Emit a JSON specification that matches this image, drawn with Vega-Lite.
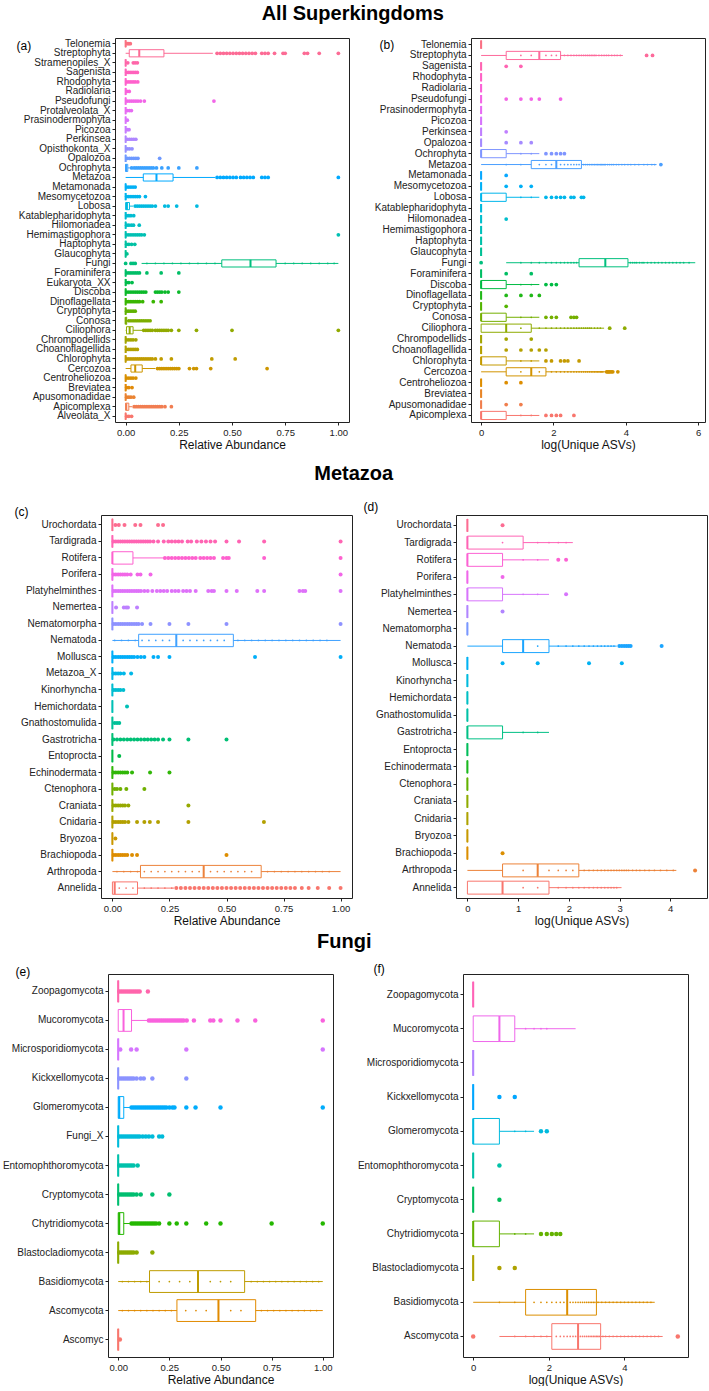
{
"$schema": "https://vega.github.io/schema/vega-lite/v6.json",
"padding": {"left": 0, "top": 3, "right": 0, "bottom": 0},
"config": {
  "font": "Liberation Sans",
  "view": {"stroke": "#222", "strokeWidth": 1},
  "axis": {"grid": false, "domain": false, "tickColor": "#222", "tickSize": 3, "labelColor": "#222", "labelFontSize": 10, "labelPadding": 2, "titleFontSize": 12, "titleFontWeight": "normal", "titleColor": "#111", "titlePadding": 3},
  "axisX": {"labelFontSize": 9.5},
  "axisY": {"titleAngle": 0, "titleAlign": "left", "titleBaseline": "middle", "titleColor": "#000"},
  "title": {"color": "#000"}
},
"resolve": {"scale": {"color": "independent"}},
"datasets": {
"none": [],
"box": [
{"p":"a","c":"Telonemia","lo":0,"q1":0,"md":0,"q3":0,"hi":0},
{"p":"a","c":"Streptophyta","lo":0,"q1":0.017,"md":0.064,"q3":0.18,"hi":0.41},
{"p":"a","c":"Stramenopiles_X","lo":0,"q1":0,"md":0,"q3":0,"hi":0},
{"p":"a","c":"Sagenista","lo":0,"q1":0,"md":0,"q3":0,"hi":0},
{"p":"a","c":"Rhodophyta","lo":0,"q1":0,"md":0,"q3":0,"hi":0},
{"p":"a","c":"Radiolaria","lo":0,"q1":0,"md":0,"q3":0,"hi":0},
{"p":"a","c":"Pseudofungi","lo":0,"q1":0,"md":0,"q3":0,"hi":0},
{"p":"a","c":"Protalveolata_X","lo":0,"q1":0,"md":0,"q3":0,"hi":0},
{"p":"a","c":"Prasinodermophyta","lo":0,"q1":0,"md":0,"q3":0,"hi":0},
{"p":"a","c":"Picozoa","lo":0,"q1":0,"md":0,"q3":0,"hi":0},
{"p":"a","c":"Perkinsea","lo":0,"q1":0,"md":0,"q3":0,"hi":0},
{"p":"a","c":"Opisthokonta_X","lo":0,"q1":0,"md":0,"q3":0,"hi":0},
{"p":"a","c":"Opalozoa","lo":0,"q1":0,"md":0,"q3":0,"hi":0},
{"p":"a","c":"Ochrophyta","lo":0,"q1":0,"md":0.002,"q3":0.01,"hi":0.02},
{"p":"a","c":"Metazoa","lo":0,"q1":0.083,"md":0.145,"q3":0.223,"hi":0.42},
{"p":"a","c":"Metamonada","lo":0,"q1":0,"md":0,"q3":0,"hi":0},
{"p":"a","c":"Mesomycetozoa","lo":0,"q1":0,"md":0,"q3":0,"hi":0},
{"p":"a","c":"Lobosa","lo":0,"q1":0,"md":0.006,"q3":0.018,"hi":0.035},
{"p":"a","c":"Katablepharidophyta","lo":0,"q1":0,"md":0,"q3":0,"hi":0},
{"p":"a","c":"Hilomonadea","lo":0,"q1":0,"md":0,"q3":0,"hi":0},
{"p":"a","c":"Hemimastigophora","lo":0,"q1":0,"md":0,"q3":0,"hi":0},
{"p":"a","c":"Haptophyta","lo":0,"q1":0,"md":0,"q3":0,"hi":0},
{"p":"a","c":"Glaucophyta","lo":0,"q1":0,"md":0,"q3":0,"hi":0},
{"p":"a","c":"Fungi","lo":0.075,"q1":0.452,"md":0.587,"q3":0.707,"hi":1},
{"p":"a","c":"Foraminifera","lo":0,"q1":0,"md":0,"q3":0,"hi":0},
{"p":"a","c":"Eukaryota_XX","lo":0,"q1":0,"md":0,"q3":0,"hi":0},
{"p":"a","c":"Discoba","lo":0,"q1":0,"md":0,"q3":0,"hi":0},
{"p":"a","c":"Dinoflagellata","lo":0,"q1":0,"md":0,"q3":0,"hi":0},
{"p":"a","c":"Cryptophyta","lo":0,"q1":0,"md":0,"q3":0,"hi":0},
{"p":"a","c":"Conosa","lo":0,"q1":0,"md":0,"q3":0.005,"hi":0.012},
{"p":"a","c":"Ciliophora","lo":0,"q1":0.004,"md":0.019,"q3":0.035,"hi":0.08},
{"p":"a","c":"Chrompodellids","lo":0,"q1":0,"md":0,"q3":0,"hi":0},
{"p":"a","c":"Choanoflagellida","lo":0,"q1":0,"md":0,"q3":0,"hi":0},
{"p":"a","c":"Chlorophyta","lo":0,"q1":0,"md":0,"q3":0,"hi":0},
{"p":"a","c":"Cercozoa","lo":0,"q1":0.025,"md":0.045,"q3":0.078,"hi":0.14},
{"p":"a","c":"Centroheliozoa","lo":0,"q1":0,"md":0,"q3":0,"hi":0},
{"p":"a","c":"Breviatea","lo":0,"q1":0,"md":0,"q3":0,"hi":0},
{"p":"a","c":"Apusomonadidae","lo":0,"q1":0,"md":0,"q3":0,"hi":0},
{"p":"a","c":"Apicomplexa","lo":0,"q1":0,"md":0.003,"q3":0.015,"hi":0.03},
{"p":"a","c":"Alveolata_X","lo":0,"q1":0,"md":0,"q3":0,"hi":0},
{"p":"b","c":"Telonemia","lo":0,"q1":0,"md":0,"q3":0,"hi":0},
{"p":"b","c":"Streptophyta","lo":0,"q1":0.693,"md":1.609,"q3":2.197,"hi":3.92},
{"p":"b","c":"Sagenista","lo":0,"q1":0,"md":0,"q3":0,"hi":0},
{"p":"b","c":"Rhodophyta","lo":0,"q1":0,"md":0,"q3":0,"hi":0},
{"p":"b","c":"Radiolaria","lo":0,"q1":0,"md":0,"q3":0,"hi":0},
{"p":"b","c":"Pseudofungi","lo":0,"q1":0,"md":0,"q3":0,"hi":0},
{"p":"b","c":"Prasinodermophyta","lo":0,"q1":0,"md":0,"q3":0,"hi":0},
{"p":"b","c":"Picozoa","lo":0,"q1":0,"md":0,"q3":0,"hi":0},
{"p":"b","c":"Perkinsea","lo":0,"q1":0,"md":0,"q3":0,"hi":0},
{"p":"b","c":"Opalozoa","lo":0,"q1":0,"md":0,"q3":0,"hi":0},
{"p":"b","c":"Ochrophyta","lo":0,"q1":0,"md":0,"q3":0.693,"hi":1.609},
{"p":"b","c":"Metazoa","lo":0,"q1":1.386,"md":2.079,"q3":2.773,"hi":4.85},
{"p":"b","c":"Metamonada","lo":0,"q1":0,"md":0,"q3":0,"hi":0},
{"p":"b","c":"Mesomycetozoa","lo":0,"q1":0,"md":0,"q3":0,"hi":0},
{"p":"b","c":"Lobosa","lo":0,"q1":0,"md":0,"q3":0.693,"hi":1.609},
{"p":"b","c":"Katablepharidophyta","lo":0,"q1":0,"md":0,"q3":0,"hi":0},
{"p":"b","c":"Hilomonadea","lo":0,"q1":0,"md":0,"q3":0,"hi":0},
{"p":"b","c":"Hemimastigophora","lo":0,"q1":0,"md":0,"q3":0,"hi":0},
{"p":"b","c":"Haptophyta","lo":0,"q1":0,"md":0,"q3":0,"hi":0},
{"p":"b","c":"Glaucophyta","lo":0,"q1":0,"md":0,"q3":0,"hi":0},
{"p":"b","c":"Fungi","lo":0.693,"q1":2.708,"md":3.434,"q3":4.06,"hi":5.92},
{"p":"b","c":"Foraminifera","lo":0,"q1":0,"md":0,"q3":0,"hi":0},
{"p":"b","c":"Discoba","lo":0,"q1":0,"md":0,"q3":0.693,"hi":1.609},
{"p":"b","c":"Dinoflagellata","lo":0,"q1":0,"md":0,"q3":0,"hi":0},
{"p":"b","c":"Cryptophyta","lo":0,"q1":0,"md":0,"q3":0,"hi":0},
{"p":"b","c":"Conosa","lo":0,"q1":0,"md":0,"q3":0.693,"hi":1.609},
{"p":"b","c":"Ciliophora","lo":0,"q1":0,"md":0.693,"q3":1.386,"hi":3.4},
{"p":"b","c":"Chrompodellids","lo":0,"q1":0,"md":0,"q3":0,"hi":0},
{"p":"b","c":"Choanoflagellida","lo":0,"q1":0,"md":0,"q3":0,"hi":0},
{"p":"b","c":"Chlorophyta","lo":0,"q1":0,"md":0,"q3":0.693,"hi":1.609},
{"p":"b","c":"Cercozoa","lo":0,"q1":0.693,"md":1.386,"q3":1.792,"hi":3.43},
{"p":"b","c":"Centroheliozoa","lo":0,"q1":0,"md":0,"q3":0,"hi":0},
{"p":"b","c":"Breviatea","lo":0,"q1":0,"md":0,"q3":0,"hi":0},
{"p":"b","c":"Apusomonadidae","lo":0,"q1":0,"md":0,"q3":0,"hi":0},
{"p":"b","c":"Apicomplexa","lo":0,"q1":0,"md":0,"q3":0.693,"hi":1.609},
{"p":"c","c":"Urochordata","lo":0,"q1":0,"md":0,"q3":0,"hi":0},
{"p":"c","c":"Tardigrada","lo":0,"q1":0,"md":0,"q3":0,"hi":0},
{"p":"c","c":"Rotifera","lo":0,"q1":0,"md":0,"q3":0.09,"hi":0.225},
{"p":"c","c":"Porifera","lo":0,"q1":0,"md":0,"q3":0,"hi":0},
{"p":"c","c":"Platyhelminthes","lo":0,"q1":0,"md":0,"q3":0,"hi":0},
{"p":"c","c":"Nemertea","lo":0,"q1":0,"md":0,"q3":0,"hi":0},
{"p":"c","c":"Nematomorpha","lo":0,"q1":0,"md":0,"q3":0,"hi":0},
{"p":"c","c":"Nematoda","lo":0,"q1":0.115,"md":0.28,"q3":0.53,"hi":1},
{"p":"c","c":"Mollusca","lo":0,"q1":0,"md":0,"q3":0,"hi":0},
{"p":"c","c":"Metazoa_X","lo":0,"q1":0,"md":0,"q3":0,"hi":0},
{"p":"c","c":"Kinorhyncha","lo":0,"q1":0,"md":0,"q3":0,"hi":0},
{"p":"c","c":"Hemichordata","lo":0,"q1":0,"md":0,"q3":0,"hi":0},
{"p":"c","c":"Gnathostomulida","lo":0,"q1":0,"md":0,"q3":0,"hi":0},
{"p":"c","c":"Gastrotricha","lo":0,"q1":0,"md":0,"q3":0,"hi":0},
{"p":"c","c":"Entoprocta","lo":0,"q1":0,"md":0,"q3":0,"hi":0},
{"p":"c","c":"Echinodermata","lo":0,"q1":0,"md":0,"q3":0,"hi":0},
{"p":"c","c":"Ctenophora","lo":0,"q1":0,"md":0,"q3":0,"hi":0},
{"p":"c","c":"Craniata","lo":0,"q1":0,"md":0,"q3":0,"hi":0},
{"p":"c","c":"Cnidaria","lo":0,"q1":0,"md":0,"q3":0,"hi":0},
{"p":"c","c":"Bryozoa","lo":0,"q1":0,"md":0,"q3":0,"hi":0},
{"p":"c","c":"Brachiopoda","lo":0,"q1":0,"md":0,"q3":0,"hi":0},
{"p":"c","c":"Arthropoda","lo":0,"q1":0.123,"md":0.4,"q3":0.652,"hi":1},
{"p":"c","c":"Annelida","lo":0,"q1":0,"md":0.01,"q3":0.11,"hi":0.27},
{"p":"d","c":"Urochordata","lo":0,"q1":0,"md":0,"q3":0,"hi":0},
{"p":"d","c":"Tardigrada","lo":0,"q1":0,"md":0,"q3":1.099,"hi":2.079},
{"p":"d","c":"Rotifera","lo":0,"q1":0,"md":0,"q3":0.693,"hi":1.609},
{"p":"d","c":"Porifera","lo":0,"q1":0,"md":0,"q3":0,"hi":0},
{"p":"d","c":"Platyhelminthes","lo":0,"q1":0,"md":0,"q3":0.693,"hi":1.609},
{"p":"d","c":"Nemertea","lo":0,"q1":0,"md":0,"q3":0,"hi":0},
{"p":"d","c":"Nematomorpha","lo":0,"q1":0,"md":0,"q3":0,"hi":0},
{"p":"d","c":"Nematoda","lo":0,"q1":0.693,"md":1.099,"q3":1.609,"hi":2.944},
{"p":"d","c":"Mollusca","lo":0,"q1":0,"md":0,"q3":0,"hi":0},
{"p":"d","c":"Kinorhyncha","lo":0,"q1":0,"md":0,"q3":0,"hi":0},
{"p":"d","c":"Hemichordata","lo":0,"q1":0,"md":0,"q3":0,"hi":0},
{"p":"d","c":"Gnathostomulida","lo":0,"q1":0,"md":0,"q3":0,"hi":0},
{"p":"d","c":"Gastrotricha","lo":0,"q1":0,"md":0,"q3":0.693,"hi":1.609},
{"p":"d","c":"Entoprocta","lo":0,"q1":0,"md":0,"q3":0,"hi":0},
{"p":"d","c":"Echinodermata","lo":0,"q1":0,"md":0,"q3":0,"hi":0},
{"p":"d","c":"Ctenophora","lo":0,"q1":0,"md":0,"q3":0,"hi":0},
{"p":"d","c":"Craniata","lo":0,"q1":0,"md":0,"q3":0,"hi":0},
{"p":"d","c":"Cnidaria","lo":0,"q1":0,"md":0,"q3":0,"hi":0},
{"p":"d","c":"Bryozoa","lo":0,"q1":0,"md":0,"q3":0,"hi":0},
{"p":"d","c":"Brachiopoda","lo":0,"q1":0,"md":0,"q3":0,"hi":0},
{"p":"d","c":"Arthropoda","lo":0,"q1":0.693,"md":1.386,"q3":2.197,"hi":4.12},
{"p":"d","c":"Annelida","lo":0,"q1":0,"md":0.693,"q3":1.609,"hi":3.04},
{"p":"e","c":"Zoopagomycota","lo":0,"q1":0,"md":0,"q3":0,"hi":0},
{"p":"e","c":"Mucoromycota","lo":0,"q1":0,"md":0.026,"q3":0.065,"hi":0.145},
{"p":"e","c":"Microsporidiomycota","lo":0,"q1":0,"md":0,"q3":0,"hi":0},
{"p":"e","c":"Kickxellomycota","lo":0,"q1":0,"md":0,"q3":0,"hi":0},
{"p":"e","c":"Glomeromycota","lo":0,"q1":0,"md":0.005,"q3":0.027,"hi":0.06},
{"p":"e","c":"Fungi_X","lo":0,"q1":0,"md":0,"q3":0,"hi":0},
{"p":"e","c":"Entomophthoromycota","lo":0,"q1":0,"md":0,"q3":0,"hi":0},
{"p":"e","c":"Cryptomycota","lo":0,"q1":0,"md":0,"q3":0,"hi":0},
{"p":"e","c":"Chytridiomycota","lo":0,"q1":0,"md":0.005,"q3":0.027,"hi":0.06},
{"p":"e","c":"Blastocladiomycota","lo":0,"q1":0,"md":0,"q3":0,"hi":0},
{"p":"e","c":"Basidiomycota","lo":0,"q1":0.153,"md":0.39,"q3":0.618,"hi":1},
{"p":"e","c":"Ascomycota","lo":0,"q1":0.287,"md":0.49,"q3":0.672,"hi":1},
{"p":"e","c":"Ascomyc","lo":0,"q1":0,"md":0,"q3":0,"hi":0},
{"p":"f","c":"Zoopagomycota","lo":0,"q1":0,"md":0,"q3":0,"hi":0},
{"p":"f","c":"Mucoromycota","lo":0,"q1":0,"md":0.693,"q3":1.099,"hi":2.708},
{"p":"f","c":"Microsporidiomycota","lo":0,"q1":0,"md":0,"q3":0,"hi":0},
{"p":"f","c":"Kickxellomycota","lo":0,"q1":0,"md":0,"q3":0,"hi":0},
{"p":"f","c":"Glomeromycota","lo":0,"q1":0,"md":0,"q3":0.693,"hi":1.609},
{"p":"f","c":"Entomophthoromycota","lo":0,"q1":0,"md":0,"q3":0,"hi":0},
{"p":"f","c":"Cryptomycota","lo":0,"q1":0,"md":0,"q3":0,"hi":0},
{"p":"f","c":"Chytridiomycota","lo":0,"q1":0,"md":0,"q3":0.693,"hi":1.609},
{"p":"f","c":"Blastocladiomycota","lo":0,"q1":0,"md":0,"q3":0,"hi":0},
{"p":"f","c":"Basidiomycota","lo":0,"q1":1.386,"md":2.485,"q3":3.258,"hi":4.8},
{"p":"f","c":"Ascomycota","lo":0.693,"q1":2.079,"md":2.773,"q3":3.37,"hi":5.01}
],
"out": [
{"p":"a","c":"Telonemia","v":0.008},{"p":"a","c":"Telonemia","v":0.015},{"p":"a","c":"Telonemia","v":0.022},
{"p":"a","c":"Streptophyta","v":0.43},{"p":"a","c":"Streptophyta","v":0.445},{"p":"a","c":"Streptophyta","v":0.46},{"p":"a","c":"Streptophyta","v":0.475},{"p":"a","c":"Streptophyta","v":0.49},{"p":"a","c":"Streptophyta","v":0.505},{"p":"a","c":"Streptophyta","v":0.52},{"p":"a","c":"Streptophyta","v":0.535},{"p":"a","c":"Streptophyta","v":0.55},{"p":"a","c":"Streptophyta","v":0.565},{"p":"a","c":"Streptophyta","v":0.58},{"p":"a","c":"Streptophyta","v":0.595},{"p":"a","c":"Streptophyta","v":0.61},{"p":"a","c":"Streptophyta","v":0.64},{"p":"a","c":"Streptophyta","v":0.655},{"p":"a","c":"Streptophyta","v":0.67},{"p":"a","c":"Streptophyta","v":0.7},{"p":"a","c":"Streptophyta","v":0.74},{"p":"a","c":"Streptophyta","v":0.75},{"p":"a","c":"Streptophyta","v":0.84},{"p":"a","c":"Streptophyta","v":0.855},{"p":"a","c":"Streptophyta","v":0.91},{"p":"a","c":"Streptophyta","v":1},
{"p":"a","c":"Stramenopiles_X","v":0.01},{"p":"a","c":"Stramenopiles_X","v":0.036},{"p":"a","c":"Stramenopiles_X","v":0.045},{"p":"a","c":"Stramenopiles_X","v":0.055},
{"p":"a","c":"Sagenista","v":0.005},{"p":"a","c":"Sagenista","v":0.015},{"p":"a","c":"Sagenista","v":0.025},{"p":"a","c":"Sagenista","v":0.035},{"p":"a","c":"Sagenista","v":0.045},{"p":"a","c":"Sagenista","v":0.055},
{"p":"a","c":"Rhodophyta","v":0.005},{"p":"a","c":"Rhodophyta","v":0.015},{"p":"a","c":"Rhodophyta","v":0.025},{"p":"a","c":"Rhodophyta","v":0.035},{"p":"a","c":"Rhodophyta","v":0.045},{"p":"a","c":"Rhodophyta","v":0.057},
{"p":"a","c":"Radiolaria","v":0.006},{"p":"a","c":"Radiolaria","v":0.017},
{"p":"a","c":"Pseudofungi","v":0.008},{"p":"a","c":"Pseudofungi","v":0.018},{"p":"a","c":"Pseudofungi","v":0.028},{"p":"a","c":"Pseudofungi","v":0.038},{"p":"a","c":"Pseudofungi","v":0.048},{"p":"a","c":"Pseudofungi","v":0.058},{"p":"a","c":"Pseudofungi","v":0.07},{"p":"a","c":"Pseudofungi","v":0.088},{"p":"a","c":"Pseudofungi","v":0.415},
{"p":"a","c":"Protalveolata_X","v":0.008},{"p":"a","c":"Protalveolata_X","v":0.018},{"p":"a","c":"Protalveolata_X","v":0.027},
{"p":"a","c":"Prasinodermophyta","v":0.008},
{"p":"a","c":"Picozoa","v":0.008},{"p":"a","c":"Picozoa","v":0.016},
{"p":"a","c":"Perkinsea","v":0.008},{"p":"a","c":"Perkinsea","v":0.018},{"p":"a","c":"Perkinsea","v":0.028},{"p":"a","c":"Perkinsea","v":0.038},{"p":"a","c":"Perkinsea","v":0.048},
{"p":"a","c":"Opisthokonta_X","v":0.008},{"p":"a","c":"Opisthokonta_X","v":0.018},{"p":"a","c":"Opisthokonta_X","v":0.03},
{"p":"a","c":"Opalozoa","v":0.008},{"p":"a","c":"Opalozoa","v":0.018},{"p":"a","c":"Opalozoa","v":0.028},{"p":"a","c":"Opalozoa","v":0.038},{"p":"a","c":"Opalozoa","v":0.048},{"p":"a","c":"Opalozoa","v":0.058},{"p":"a","c":"Opalozoa","v":0.16},
{"p":"a","c":"Ochrophyta","v":0.028},{"p":"a","c":"Ochrophyta","v":0.04},{"p":"a","c":"Ochrophyta","v":0.05},{"p":"a","c":"Ochrophyta","v":0.06},{"p":"a","c":"Ochrophyta","v":0.07},{"p":"a","c":"Ochrophyta","v":0.08},{"p":"a","c":"Ochrophyta","v":0.09},{"p":"a","c":"Ochrophyta","v":0.1},{"p":"a","c":"Ochrophyta","v":0.11},{"p":"a","c":"Ochrophyta","v":0.12},{"p":"a","c":"Ochrophyta","v":0.13},{"p":"a","c":"Ochrophyta","v":0.145},{"p":"a","c":"Ochrophyta","v":0.17},{"p":"a","c":"Ochrophyta","v":0.2},{"p":"a","c":"Ochrophyta","v":0.25},{"p":"a","c":"Ochrophyta","v":0.335},
{"p":"a","c":"Metazoa","v":0.43},{"p":"a","c":"Metazoa","v":0.445},{"p":"a","c":"Metazoa","v":0.46},{"p":"a","c":"Metazoa","v":0.475},{"p":"a","c":"Metazoa","v":0.49},{"p":"a","c":"Metazoa","v":0.505},{"p":"a","c":"Metazoa","v":0.52},{"p":"a","c":"Metazoa","v":0.54},{"p":"a","c":"Metazoa","v":0.555},{"p":"a","c":"Metazoa","v":0.57},{"p":"a","c":"Metazoa","v":0.585},{"p":"a","c":"Metazoa","v":0.6},{"p":"a","c":"Metazoa","v":0.64},{"p":"a","c":"Metazoa","v":0.655},{"p":"a","c":"Metazoa","v":0.67},{"p":"a","c":"Metazoa","v":1},
{"p":"a","c":"Metamonada","v":0.005},{"p":"a","c":"Metamonada","v":0.015},{"p":"a","c":"Metamonada","v":0.025},{"p":"a","c":"Metamonada","v":0.035},{"p":"a","c":"Metamonada","v":0.045},
{"p":"a","c":"Mesomycetozoa","v":0.005},{"p":"a","c":"Mesomycetozoa","v":0.015},{"p":"a","c":"Mesomycetozoa","v":0.025},{"p":"a","c":"Mesomycetozoa","v":0.035},{"p":"a","c":"Mesomycetozoa","v":0.045},{"p":"a","c":"Mesomycetozoa","v":0.055},{"p":"a","c":"Mesomycetozoa","v":0.065},{"p":"a","c":"Mesomycetozoa","v":0.093},
{"p":"a","c":"Lobosa","v":0.045},{"p":"a","c":"Lobosa","v":0.055},{"p":"a","c":"Lobosa","v":0.065},{"p":"a","c":"Lobosa","v":0.075},{"p":"a","c":"Lobosa","v":0.085},{"p":"a","c":"Lobosa","v":0.095},{"p":"a","c":"Lobosa","v":0.105},{"p":"a","c":"Lobosa","v":0.115},{"p":"a","c":"Lobosa","v":0.125},{"p":"a","c":"Lobosa","v":0.14},{"p":"a","c":"Lobosa","v":0.184},{"p":"a","c":"Lobosa","v":0.2},{"p":"a","c":"Lobosa","v":0.24},{"p":"a","c":"Lobosa","v":0.335},
{"p":"a","c":"Katablepharidophyta","v":0.005},{"p":"a","c":"Katablepharidophyta","v":0.015},{"p":"a","c":"Katablepharidophyta","v":0.025},{"p":"a","c":"Katablepharidophyta","v":0.038},
{"p":"a","c":"Hilomonadea","v":0.005},{"p":"a","c":"Hilomonadea","v":0.015},{"p":"a","c":"Hilomonadea","v":0.027},{"p":"a","c":"Hilomonadea","v":0.037},{"p":"a","c":"Hilomonadea","v":0.064},
{"p":"a","c":"Hemimastigophora","v":0.005},{"p":"a","c":"Hemimastigophora","v":0.015},{"p":"a","c":"Hemimastigophora","v":0.025},{"p":"a","c":"Hemimastigophora","v":0.035},{"p":"a","c":"Hemimastigophora","v":0.045},{"p":"a","c":"Hemimastigophora","v":0.055},{"p":"a","c":"Hemimastigophora","v":0.065},{"p":"a","c":"Hemimastigophora","v":0.075},{"p":"a","c":"Hemimastigophora","v":0.088},{"p":"a","c":"Hemimastigophora","v":1},
{"p":"a","c":"Haptophyta","v":0.005},{"p":"a","c":"Haptophyta","v":0.015},{"p":"a","c":"Haptophyta","v":0.028},{"p":"a","c":"Haptophyta","v":0.043},
{"p":"a","c":"Glaucophyta","v":0.006},
{"p":"a","c":"Fungi","v":0},{"p":"a","c":"Fungi","v":0.025},{"p":"a","c":"Fungi","v":0.035},{"p":"a","c":"Fungi","v":0.045},
{"p":"a","c":"Foraminifera","v":0.005},{"p":"a","c":"Foraminifera","v":0.015},{"p":"a","c":"Foraminifera","v":0.025},{"p":"a","c":"Foraminifera","v":0.035},{"p":"a","c":"Foraminifera","v":0.045},{"p":"a","c":"Foraminifera","v":0.055},{"p":"a","c":"Foraminifera","v":0.065},{"p":"a","c":"Foraminifera","v":0.1},{"p":"a","c":"Foraminifera","v":0.167},{"p":"a","c":"Foraminifera","v":0.25},
{"p":"a","c":"Eukaryota_XX","v":0.005},{"p":"a","c":"Eukaryota_XX","v":0.015},{"p":"a","c":"Eukaryota_XX","v":0.03},
{"p":"a","c":"Discoba","v":0.005},{"p":"a","c":"Discoba","v":0.015},{"p":"a","c":"Discoba","v":0.025},{"p":"a","c":"Discoba","v":0.035},{"p":"a","c":"Discoba","v":0.045},{"p":"a","c":"Discoba","v":0.055},{"p":"a","c":"Discoba","v":0.065},{"p":"a","c":"Discoba","v":0.075},{"p":"a","c":"Discoba","v":0.085},{"p":"a","c":"Discoba","v":0.095},{"p":"a","c":"Discoba","v":0.14},{"p":"a","c":"Discoba","v":0.15},{"p":"a","c":"Discoba","v":0.16},{"p":"a","c":"Discoba","v":0.17},{"p":"a","c":"Discoba","v":0.185},{"p":"a","c":"Discoba","v":0.2},{"p":"a","c":"Discoba","v":0.25},
{"p":"a","c":"Dinoflagellata","v":0.005},{"p":"a","c":"Dinoflagellata","v":0.015},{"p":"a","c":"Dinoflagellata","v":0.025},{"p":"a","c":"Dinoflagellata","v":0.035},{"p":"a","c":"Dinoflagellata","v":0.045},{"p":"a","c":"Dinoflagellata","v":0.055},{"p":"a","c":"Dinoflagellata","v":0.065},{"p":"a","c":"Dinoflagellata","v":0.08},{"p":"a","c":"Dinoflagellata","v":0.13},{"p":"a","c":"Dinoflagellata","v":0.167},
{"p":"a","c":"Cryptophyta","v":0.005},{"p":"a","c":"Cryptophyta","v":0.015},{"p":"a","c":"Cryptophyta","v":0.025},{"p":"a","c":"Cryptophyta","v":0.035},{"p":"a","c":"Cryptophyta","v":0.045},
{"p":"a","c":"Conosa","v":0.015},{"p":"a","c":"Conosa","v":0.025},{"p":"a","c":"Conosa","v":0.035},{"p":"a","c":"Conosa","v":0.045},{"p":"a","c":"Conosa","v":0.055},{"p":"a","c":"Conosa","v":0.065},{"p":"a","c":"Conosa","v":0.075},{"p":"a","c":"Conosa","v":0.085},{"p":"a","c":"Conosa","v":0.095},{"p":"a","c":"Conosa","v":0.105},{"p":"a","c":"Conosa","v":0.115},
{"p":"a","c":"Ciliophora","v":0.085},{"p":"a","c":"Ciliophora","v":0.095},{"p":"a","c":"Ciliophora","v":0.105},{"p":"a","c":"Ciliophora","v":0.115},{"p":"a","c":"Ciliophora","v":0.125},{"p":"a","c":"Ciliophora","v":0.14},{"p":"a","c":"Ciliophora","v":0.15},{"p":"a","c":"Ciliophora","v":0.16},{"p":"a","c":"Ciliophora","v":0.17},{"p":"a","c":"Ciliophora","v":0.18},{"p":"a","c":"Ciliophora","v":0.19},{"p":"a","c":"Ciliophora","v":0.2},{"p":"a","c":"Ciliophora","v":0.215},{"p":"a","c":"Ciliophora","v":0.25},{"p":"a","c":"Ciliophora","v":0.333},{"p":"a","c":"Ciliophora","v":0.5},{"p":"a","c":"Ciliophora","v":1},
{"p":"a","c":"Chrompodellids","v":0.005},{"p":"a","c":"Chrompodellids","v":0.015},{"p":"a","c":"Chrompodellids","v":0.025},{"p":"a","c":"Chrompodellids","v":0.035},{"p":"a","c":"Chrompodellids","v":0.048},
{"p":"a","c":"Choanoflagellida","v":0.005},{"p":"a","c":"Choanoflagellida","v":0.015},{"p":"a","c":"Choanoflagellida","v":0.025},{"p":"a","c":"Choanoflagellida","v":0.035},{"p":"a","c":"Choanoflagellida","v":0.045},{"p":"a","c":"Choanoflagellida","v":0.055},
{"p":"a","c":"Chlorophyta","v":0.005},{"p":"a","c":"Chlorophyta","v":0.015},{"p":"a","c":"Chlorophyta","v":0.025},{"p":"a","c":"Chlorophyta","v":0.035},{"p":"a","c":"Chlorophyta","v":0.045},{"p":"a","c":"Chlorophyta","v":0.055},{"p":"a","c":"Chlorophyta","v":0.065},{"p":"a","c":"Chlorophyta","v":0.075},{"p":"a","c":"Chlorophyta","v":0.085},{"p":"a","c":"Chlorophyta","v":0.095},{"p":"a","c":"Chlorophyta","v":0.105},{"p":"a","c":"Chlorophyta","v":0.115},{"p":"a","c":"Chlorophyta","v":0.125},{"p":"a","c":"Chlorophyta","v":0.14},{"p":"a","c":"Chlorophyta","v":0.167},{"p":"a","c":"Chlorophyta","v":0.215},{"p":"a","c":"Chlorophyta","v":0.405},{"p":"a","c":"Chlorophyta","v":0.515},
{"p":"a","c":"Cercozoa","v":0.15},{"p":"a","c":"Cercozoa","v":0.16},{"p":"a","c":"Cercozoa","v":0.17},{"p":"a","c":"Cercozoa","v":0.18},{"p":"a","c":"Cercozoa","v":0.19},{"p":"a","c":"Cercozoa","v":0.2},{"p":"a","c":"Cercozoa","v":0.21},{"p":"a","c":"Cercozoa","v":0.22},{"p":"a","c":"Cercozoa","v":0.23},{"p":"a","c":"Cercozoa","v":0.24},{"p":"a","c":"Cercozoa","v":0.25},{"p":"a","c":"Cercozoa","v":0.3},{"p":"a","c":"Cercozoa","v":0.32},{"p":"a","c":"Cercozoa","v":0.333},{"p":"a","c":"Cercozoa","v":0.4},{"p":"a","c":"Cercozoa","v":0.665},
{"p":"a","c":"Centroheliozoa","v":0.005},{"p":"a","c":"Centroheliozoa","v":0.015},{"p":"a","c":"Centroheliozoa","v":0.025},{"p":"a","c":"Centroheliozoa","v":0.035},{"p":"a","c":"Centroheliozoa","v":0.048},
{"p":"a","c":"Breviatea","v":0.005},{"p":"a","c":"Breviatea","v":0.015},{"p":"a","c":"Breviatea","v":0.03},
{"p":"a","c":"Apusomonadidae","v":0.005},{"p":"a","c":"Apusomonadidae","v":0.015},{"p":"a","c":"Apusomonadidae","v":0.025},{"p":"a","c":"Apusomonadidae","v":0.038},
{"p":"a","c":"Apicomplexa","v":0.04},{"p":"a","c":"Apicomplexa","v":0.05},{"p":"a","c":"Apicomplexa","v":0.06},{"p":"a","c":"Apicomplexa","v":0.07},{"p":"a","c":"Apicomplexa","v":0.08},{"p":"a","c":"Apicomplexa","v":0.09},{"p":"a","c":"Apicomplexa","v":0.1},{"p":"a","c":"Apicomplexa","v":0.11},{"p":"a","c":"Apicomplexa","v":0.12},{"p":"a","c":"Apicomplexa","v":0.13},{"p":"a","c":"Apicomplexa","v":0.14},{"p":"a","c":"Apicomplexa","v":0.15},{"p":"a","c":"Apicomplexa","v":0.16},{"p":"a","c":"Apicomplexa","v":0.17},{"p":"a","c":"Apicomplexa","v":0.185},{"p":"a","c":"Apicomplexa","v":0.215},
{"p":"a","c":"Alveolata_X","v":0.005},{"p":"a","c":"Alveolata_X","v":0.015},{"p":"a","c":"Alveolata_X","v":0.028},
{"p":"b","c":"Streptophyta","v":4.575},{"p":"b","c":"Streptophyta","v":4.74},
{"p":"b","c":"Sagenista","v":0.693},{"p":"b","c":"Sagenista","v":1.099},
{"p":"b","c":"Pseudofungi","v":0.693},{"p":"b","c":"Pseudofungi","v":1.099},{"p":"b","c":"Pseudofungi","v":1.386},{"p":"b","c":"Pseudofungi","v":1.609},{"p":"b","c":"Pseudofungi","v":2.197},
{"p":"b","c":"Perkinsea","v":0.693},
{"p":"b","c":"Opalozoa","v":0.693},{"p":"b","c":"Opalozoa","v":1.099},{"p":"b","c":"Opalozoa","v":1.386},
{"p":"b","c":"Ochrophyta","v":1.792},{"p":"b","c":"Ochrophyta","v":1.946},{"p":"b","c":"Ochrophyta","v":2.079},{"p":"b","c":"Ochrophyta","v":2.197},{"p":"b","c":"Ochrophyta","v":2.303},
{"p":"b","c":"Metazoa","v":4.97},
{"p":"b","c":"Metamonada","v":0.693},
{"p":"b","c":"Mesomycetozoa","v":0.693},{"p":"b","c":"Mesomycetozoa","v":1.099},{"p":"b","c":"Mesomycetozoa","v":1.386},
{"p":"b","c":"Lobosa","v":1.792},{"p":"b","c":"Lobosa","v":1.946},{"p":"b","c":"Lobosa","v":2.079},{"p":"b","c":"Lobosa","v":2.197},{"p":"b","c":"Lobosa","v":2.303},{"p":"b","c":"Lobosa","v":2.485},{"p":"b","c":"Lobosa","v":2.565},{"p":"b","c":"Lobosa","v":2.773},{"p":"b","c":"Lobosa","v":2.833},
{"p":"b","c":"Hilomonadea","v":0.693},
{"p":"b","c":"Fungi","v":0},
{"p":"b","c":"Foraminifera","v":0.693},{"p":"b","c":"Foraminifera","v":1.386},
{"p":"b","c":"Discoba","v":1.792},{"p":"b","c":"Discoba","v":1.946},{"p":"b","c":"Discoba","v":2.079},
{"p":"b","c":"Dinoflagellata","v":0.693},{"p":"b","c":"Dinoflagellata","v":1.099},{"p":"b","c":"Dinoflagellata","v":1.386},{"p":"b","c":"Dinoflagellata","v":1.609},
{"p":"b","c":"Cryptophyta","v":0.693},
{"p":"b","c":"Conosa","v":1.792},{"p":"b","c":"Conosa","v":1.946},{"p":"b","c":"Conosa","v":2.079},{"p":"b","c":"Conosa","v":2.485},{"p":"b","c":"Conosa","v":2.565},{"p":"b","c":"Conosa","v":2.639},
{"p":"b","c":"Ciliophora","v":3.555},{"p":"b","c":"Ciliophora","v":3.97},
{"p":"b","c":"Chrompodellids","v":0.693},{"p":"b","c":"Chrompodellids","v":1.386},
{"p":"b","c":"Choanoflagellida","v":0.693},{"p":"b","c":"Choanoflagellida","v":1.099},{"p":"b","c":"Choanoflagellida","v":1.386},{"p":"b","c":"Choanoflagellida","v":1.609},{"p":"b","c":"Choanoflagellida","v":1.792},
{"p":"b","c":"Chlorophyta","v":1.792},{"p":"b","c":"Chlorophyta","v":1.946},{"p":"b","c":"Chlorophyta","v":2.197},{"p":"b","c":"Chlorophyta","v":2.303},{"p":"b","c":"Chlorophyta","v":2.398},{"p":"b","c":"Chlorophyta","v":2.708},
{"p":"b","c":"Cercozoa","v":3.47},{"p":"b","c":"Cercozoa","v":3.5},{"p":"b","c":"Cercozoa","v":3.53},{"p":"b","c":"Cercozoa","v":3.56},{"p":"b","c":"Cercozoa","v":3.6},{"p":"b","c":"Cercozoa","v":3.64},{"p":"b","c":"Cercozoa","v":3.78},
{"p":"b","c":"Centroheliozoa","v":0.693},{"p":"b","c":"Centroheliozoa","v":1.099},
{"p":"b","c":"Apusomonadidae","v":0.693},{"p":"b","c":"Apusomonadidae","v":1.099},
{"p":"b","c":"Apicomplexa","v":1.792},{"p":"b","c":"Apicomplexa","v":1.946},{"p":"b","c":"Apicomplexa","v":2.079},{"p":"b","c":"Apicomplexa","v":2.197},{"p":"b","c":"Apicomplexa","v":2.565},
{"p":"c","c":"Urochordata","v":0.013},{"p":"c","c":"Urochordata","v":0.028},{"p":"c","c":"Urochordata","v":0.053},{"p":"c","c":"Urochordata","v":0.1},{"p":"c","c":"Urochordata","v":0.123},{"p":"c","c":"Urochordata","v":0.2},{"p":"c","c":"Urochordata","v":0.222},
{"p":"c","c":"Tardigrada","v":0.005},{"p":"c","c":"Tardigrada","v":0.015},{"p":"c","c":"Tardigrada","v":0.025},{"p":"c","c":"Tardigrada","v":0.035},{"p":"c","c":"Tardigrada","v":0.045},{"p":"c","c":"Tardigrada","v":0.055},{"p":"c","c":"Tardigrada","v":0.065},{"p":"c","c":"Tardigrada","v":0.075},{"p":"c","c":"Tardigrada","v":0.085},{"p":"c","c":"Tardigrada","v":0.095},{"p":"c","c":"Tardigrada","v":0.105},{"p":"c","c":"Tardigrada","v":0.115},{"p":"c","c":"Tardigrada","v":0.125},{"p":"c","c":"Tardigrada","v":0.135},{"p":"c","c":"Tardigrada","v":0.145},{"p":"c","c":"Tardigrada","v":0.155},{"p":"c","c":"Tardigrada","v":0.165},{"p":"c","c":"Tardigrada","v":0.18},{"p":"c","c":"Tardigrada","v":0.2},{"p":"c","c":"Tardigrada","v":0.225},{"p":"c","c":"Tardigrada","v":0.245},{"p":"c","c":"Tardigrada","v":0.26},{"p":"c","c":"Tardigrada","v":0.275},{"p":"c","c":"Tardigrada","v":0.29},{"p":"c","c":"Tardigrada","v":0.305},{"p":"c","c":"Tardigrada","v":0.33},{"p":"c","c":"Tardigrada","v":0.345},{"p":"c","c":"Tardigrada","v":0.37},{"p":"c","c":"Tardigrada","v":0.39},{"p":"c","c":"Tardigrada","v":0.41},{"p":"c","c":"Tardigrada","v":0.43},{"p":"c","c":"Tardigrada","v":0.45},{"p":"c","c":"Tardigrada","v":0.5},{"p":"c","c":"Tardigrada","v":0.555},{"p":"c","c":"Tardigrada","v":0.665},{"p":"c","c":"Tardigrada","v":1},
{"p":"c","c":"Rotifera","v":0.23},{"p":"c","c":"Rotifera","v":0.245},{"p":"c","c":"Rotifera","v":0.26},{"p":"c","c":"Rotifera","v":0.275},{"p":"c","c":"Rotifera","v":0.29},{"p":"c","c":"Rotifera","v":0.305},{"p":"c","c":"Rotifera","v":0.32},{"p":"c","c":"Rotifera","v":0.335},{"p":"c","c":"Rotifera","v":0.35},{"p":"c","c":"Rotifera","v":0.365},{"p":"c","c":"Rotifera","v":0.385},{"p":"c","c":"Rotifera","v":0.4},{"p":"c","c":"Rotifera","v":0.415},{"p":"c","c":"Rotifera","v":0.43},{"p":"c","c":"Rotifera","v":0.445},{"p":"c","c":"Rotifera","v":0.485},{"p":"c","c":"Rotifera","v":0.5},{"p":"c","c":"Rotifera","v":0.51},{"p":"c","c":"Rotifera","v":0.665},{"p":"c","c":"Rotifera","v":1},
{"p":"c","c":"Porifera","v":0.005},{"p":"c","c":"Porifera","v":0.015},{"p":"c","c":"Porifera","v":0.025},{"p":"c","c":"Porifera","v":0.035},{"p":"c","c":"Porifera","v":0.045},{"p":"c","c":"Porifera","v":0.055},{"p":"c","c":"Porifera","v":0.065},{"p":"c","c":"Porifera","v":0.08},{"p":"c","c":"Porifera","v":0.11},{"p":"c","c":"Porifera","v":0.123},{"p":"c","c":"Porifera","v":0.167},{"p":"c","c":"Porifera","v":1},
{"p":"c","c":"Platyhelminthes","v":0.005},{"p":"c","c":"Platyhelminthes","v":0.015},{"p":"c","c":"Platyhelminthes","v":0.025},{"p":"c","c":"Platyhelminthes","v":0.035},{"p":"c","c":"Platyhelminthes","v":0.045},{"p":"c","c":"Platyhelminthes","v":0.055},{"p":"c","c":"Platyhelminthes","v":0.065},{"p":"c","c":"Platyhelminthes","v":0.075},{"p":"c","c":"Platyhelminthes","v":0.085},{"p":"c","c":"Platyhelminthes","v":0.095},{"p":"c","c":"Platyhelminthes","v":0.105},{"p":"c","c":"Platyhelminthes","v":0.115},{"p":"c","c":"Platyhelminthes","v":0.125},{"p":"c","c":"Platyhelminthes","v":0.14},{"p":"c","c":"Platyhelminthes","v":0.155},{"p":"c","c":"Platyhelminthes","v":0.175},{"p":"c","c":"Platyhelminthes","v":0.195},{"p":"c","c":"Platyhelminthes","v":0.21},{"p":"c","c":"Platyhelminthes","v":0.225},{"p":"c","c":"Platyhelminthes","v":0.24},{"p":"c","c":"Platyhelminthes","v":0.26},{"p":"c","c":"Platyhelminthes","v":0.275},{"p":"c","c":"Platyhelminthes","v":0.29},{"p":"c","c":"Platyhelminthes","v":0.31},{"p":"c","c":"Platyhelminthes","v":0.325},{"p":"c","c":"Platyhelminthes","v":0.34},{"p":"c","c":"Platyhelminthes","v":0.365},{"p":"c","c":"Platyhelminthes","v":0.42},{"p":"c","c":"Platyhelminthes","v":0.435},{"p":"c","c":"Platyhelminthes","v":0.445},{"p":"c","c":"Platyhelminthes","v":0.5},{"p":"c","c":"Platyhelminthes","v":0.545},{"p":"c","c":"Platyhelminthes","v":0.635},{"p":"c","c":"Platyhelminthes","v":0.665},{"p":"c","c":"Platyhelminthes","v":0.82},{"p":"c","c":"Platyhelminthes","v":0.835},{"p":"c","c":"Platyhelminthes","v":0.845},{"p":"c","c":"Platyhelminthes","v":1},
{"p":"c","c":"Nemertea","v":0.016},{"p":"c","c":"Nemertea","v":0.05},{"p":"c","c":"Nemertea","v":0.06},{"p":"c","c":"Nemertea","v":0.068},{"p":"c","c":"Nemertea","v":0.108},
{"p":"c","c":"Nematomorpha","v":0.005},{"p":"c","c":"Nematomorpha","v":0.015},{"p":"c","c":"Nematomorpha","v":0.025},{"p":"c","c":"Nematomorpha","v":0.035},{"p":"c","c":"Nematomorpha","v":0.045},{"p":"c","c":"Nematomorpha","v":0.055},{"p":"c","c":"Nematomorpha","v":0.065},{"p":"c","c":"Nematomorpha","v":0.075},{"p":"c","c":"Nematomorpha","v":0.085},{"p":"c","c":"Nematomorpha","v":0.095},{"p":"c","c":"Nematomorpha","v":0.105},{"p":"c","c":"Nematomorpha","v":0.115},{"p":"c","c":"Nematomorpha","v":0.13},{"p":"c","c":"Nematomorpha","v":0.167},{"p":"c","c":"Nematomorpha","v":0.25},{"p":"c","c":"Nematomorpha","v":0.333},{"p":"c","c":"Nematomorpha","v":0.5},{"p":"c","c":"Nematomorpha","v":1},
{"p":"c","c":"Mollusca","v":0.005},{"p":"c","c":"Mollusca","v":0.015},{"p":"c","c":"Mollusca","v":0.025},{"p":"c","c":"Mollusca","v":0.035},{"p":"c","c":"Mollusca","v":0.045},{"p":"c","c":"Mollusca","v":0.055},{"p":"c","c":"Mollusca","v":0.065},{"p":"c","c":"Mollusca","v":0.075},{"p":"c","c":"Mollusca","v":0.085},{"p":"c","c":"Mollusca","v":0.095},{"p":"c","c":"Mollusca","v":0.11},{"p":"c","c":"Mollusca","v":0.125},{"p":"c","c":"Mollusca","v":0.14},{"p":"c","c":"Mollusca","v":0.18},{"p":"c","c":"Mollusca","v":0.2},{"p":"c","c":"Mollusca","v":0.25},{"p":"c","c":"Mollusca","v":0.625},{"p":"c","c":"Mollusca","v":1},
{"p":"c","c":"Metazoa_X","v":0.005},{"p":"c","c":"Metazoa_X","v":0.015},{"p":"c","c":"Metazoa_X","v":0.025},{"p":"c","c":"Metazoa_X","v":0.035},{"p":"c","c":"Metazoa_X","v":0.05},{"p":"c","c":"Metazoa_X","v":0.082},
{"p":"c","c":"Kinorhyncha","v":0.005},{"p":"c","c":"Kinorhyncha","v":0.015},{"p":"c","c":"Kinorhyncha","v":0.025},{"p":"c","c":"Kinorhyncha","v":0.035},{"p":"c","c":"Kinorhyncha","v":0.048},
{"p":"c","c":"Hemichordata","v":0.064},
{"p":"c","c":"Gnathostomulida","v":0.01},{"p":"c","c":"Gnathostomulida","v":0.02},{"p":"c","c":"Gnathostomulida","v":0.03},
{"p":"c","c":"Gastrotricha","v":0.005},{"p":"c","c":"Gastrotricha","v":0.02},{"p":"c","c":"Gastrotricha","v":0.035},{"p":"c","c":"Gastrotricha","v":0.05},{"p":"c","c":"Gastrotricha","v":0.065},{"p":"c","c":"Gastrotricha","v":0.08},{"p":"c","c":"Gastrotricha","v":0.095},{"p":"c","c":"Gastrotricha","v":0.11},{"p":"c","c":"Gastrotricha","v":0.125},{"p":"c","c":"Gastrotricha","v":0.14},{"p":"c","c":"Gastrotricha","v":0.155},{"p":"c","c":"Gastrotricha","v":0.17},{"p":"c","c":"Gastrotricha","v":0.185},{"p":"c","c":"Gastrotricha","v":0.2},{"p":"c","c":"Gastrotricha","v":0.222},{"p":"c","c":"Gastrotricha","v":0.25},{"p":"c","c":"Gastrotricha","v":0.333},{"p":"c","c":"Gastrotricha","v":0.5},
{"p":"c","c":"Entoprocta","v":0.03},
{"p":"c","c":"Echinodermata","v":0.005},{"p":"c","c":"Echinodermata","v":0.015},{"p":"c","c":"Echinodermata","v":0.025},{"p":"c","c":"Echinodermata","v":0.035},{"p":"c","c":"Echinodermata","v":0.045},{"p":"c","c":"Echinodermata","v":0.055},{"p":"c","c":"Echinodermata","v":0.065},{"p":"c","c":"Echinodermata","v":0.086},{"p":"c","c":"Echinodermata","v":0.165},{"p":"c","c":"Echinodermata","v":0.25},
{"p":"c","c":"Ctenophora","v":0.01},{"p":"c","c":"Ctenophora","v":0.02},{"p":"c","c":"Ctenophora","v":0.035},{"p":"c","c":"Ctenophora","v":0.061},{"p":"c","c":"Ctenophora","v":0.14},
{"p":"c","c":"Craniata","v":0.005},{"p":"c","c":"Craniata","v":0.015},{"p":"c","c":"Craniata","v":0.025},{"p":"c","c":"Craniata","v":0.035},{"p":"c","c":"Craniata","v":0.045},{"p":"c","c":"Craniata","v":0.055},{"p":"c","c":"Craniata","v":0.07},{"p":"c","c":"Craniata","v":0.333},
{"p":"c","c":"Cnidaria","v":0.005},{"p":"c","c":"Cnidaria","v":0.015},{"p":"c","c":"Cnidaria","v":0.025},{"p":"c","c":"Cnidaria","v":0.035},{"p":"c","c":"Cnidaria","v":0.045},{"p":"c","c":"Cnidaria","v":0.055},{"p":"c","c":"Cnidaria","v":0.07},{"p":"c","c":"Cnidaria","v":0.108},{"p":"c","c":"Cnidaria","v":0.14},{"p":"c","c":"Cnidaria","v":0.164},{"p":"c","c":"Cnidaria","v":0.2},{"p":"c","c":"Cnidaria","v":0.333},{"p":"c","c":"Cnidaria","v":0.664},
{"p":"c","c":"Bryozoa","v":0.013},
{"p":"c","c":"Brachiopoda","v":0.005},{"p":"c","c":"Brachiopoda","v":0.015},{"p":"c","c":"Brachiopoda","v":0.025},{"p":"c","c":"Brachiopoda","v":0.035},{"p":"c","c":"Brachiopoda","v":0.045},{"p":"c","c":"Brachiopoda","v":0.055},{"p":"c","c":"Brachiopoda","v":0.065},{"p":"c","c":"Brachiopoda","v":0.086},{"p":"c","c":"Brachiopoda","v":0.108},{"p":"c","c":"Brachiopoda","v":0.5},
{"p":"c","c":"Annelida","v":0.28},{"p":"c","c":"Annelida","v":0.3},{"p":"c","c":"Annelida","v":0.32},{"p":"c","c":"Annelida","v":0.34},{"p":"c","c":"Annelida","v":0.36},{"p":"c","c":"Annelida","v":0.38},{"p":"c","c":"Annelida","v":0.4},{"p":"c","c":"Annelida","v":0.42},{"p":"c","c":"Annelida","v":0.44},{"p":"c","c":"Annelida","v":0.46},{"p":"c","c":"Annelida","v":0.48},{"p":"c","c":"Annelida","v":0.5},{"p":"c","c":"Annelida","v":0.52},{"p":"c","c":"Annelida","v":0.54},{"p":"c","c":"Annelida","v":0.56},{"p":"c","c":"Annelida","v":0.58},{"p":"c","c":"Annelida","v":0.6},{"p":"c","c":"Annelida","v":0.62},{"p":"c","c":"Annelida","v":0.64},{"p":"c","c":"Annelida","v":0.66},{"p":"c","c":"Annelida","v":0.68},{"p":"c","c":"Annelida","v":0.7},{"p":"c","c":"Annelida","v":0.72},{"p":"c","c":"Annelida","v":0.74},{"p":"c","c":"Annelida","v":0.76},{"p":"c","c":"Annelida","v":0.78},{"p":"c","c":"Annelida","v":0.8},{"p":"c","c":"Annelida","v":0.83},{"p":"c","c":"Annelida","v":0.86},{"p":"c","c":"Annelida","v":0.9},{"p":"c","c":"Annelida","v":0.95},{"p":"c","c":"Annelida","v":1},
{"p":"d","c":"Urochordata","v":0.693},
{"p":"d","c":"Rotifera","v":1.792},{"p":"d","c":"Rotifera","v":1.946},
{"p":"d","c":"Porifera","v":0.693},
{"p":"d","c":"Platyhelminthes","v":1.946},
{"p":"d","c":"Nemertea","v":0.693},
{"p":"d","c":"Nematoda","v":2.996},{"p":"d","c":"Nematoda","v":3.045},{"p":"d","c":"Nematoda","v":3.091},{"p":"d","c":"Nematoda","v":3.135},{"p":"d","c":"Nematoda","v":3.178},{"p":"d","c":"Nematoda","v":3.219},{"p":"d","c":"Nematoda","v":3.83},
{"p":"d","c":"Mollusca","v":0.693},{"p":"d","c":"Mollusca","v":1.386},{"p":"d","c":"Mollusca","v":2.398},{"p":"d","c":"Mollusca","v":3.045},
{"p":"d","c":"Brachiopoda","v":0.693},
{"p":"d","c":"Arthropoda","v":4.49},
{"p":"e","c":"Zoopagomycota","v":0.005},{"p":"e","c":"Zoopagomycota","v":0.015},{"p":"e","c":"Zoopagomycota","v":0.025},{"p":"e","c":"Zoopagomycota","v":0.035},{"p":"e","c":"Zoopagomycota","v":0.045},{"p":"e","c":"Zoopagomycota","v":0.055},{"p":"e","c":"Zoopagomycota","v":0.065},{"p":"e","c":"Zoopagomycota","v":0.075},{"p":"e","c":"Zoopagomycota","v":0.085},{"p":"e","c":"Zoopagomycota","v":0.095},{"p":"e","c":"Zoopagomycota","v":0.105},{"p":"e","c":"Zoopagomycota","v":0.145},
{"p":"e","c":"Mucoromycota","v":0.15},{"p":"e","c":"Mucoromycota","v":0.16},{"p":"e","c":"Mucoromycota","v":0.17},{"p":"e","c":"Mucoromycota","v":0.18},{"p":"e","c":"Mucoromycota","v":0.19},{"p":"e","c":"Mucoromycota","v":0.2},{"p":"e","c":"Mucoromycota","v":0.21},{"p":"e","c":"Mucoromycota","v":0.22},{"p":"e","c":"Mucoromycota","v":0.23},{"p":"e","c":"Mucoromycota","v":0.24},{"p":"e","c":"Mucoromycota","v":0.25},{"p":"e","c":"Mucoromycota","v":0.26},{"p":"e","c":"Mucoromycota","v":0.27},{"p":"e","c":"Mucoromycota","v":0.28},{"p":"e","c":"Mucoromycota","v":0.29},{"p":"e","c":"Mucoromycota","v":0.3},{"p":"e","c":"Mucoromycota","v":0.31},{"p":"e","c":"Mucoromycota","v":0.32},{"p":"e","c":"Mucoromycota","v":0.335},{"p":"e","c":"Mucoromycota","v":0.37},{"p":"e","c":"Mucoromycota","v":0.45},{"p":"e","c":"Mucoromycota","v":0.465},{"p":"e","c":"Mucoromycota","v":0.5},{"p":"e","c":"Mucoromycota","v":0.583},{"p":"e","c":"Mucoromycota","v":0.67},{"p":"e","c":"Mucoromycota","v":1},
{"p":"e","c":"Microsporidiomycota","v":0.01},{"p":"e","c":"Microsporidiomycota","v":0.063},{"p":"e","c":"Microsporidiomycota","v":0.09},{"p":"e","c":"Microsporidiomycota","v":0.333},{"p":"e","c":"Microsporidiomycota","v":1},
{"p":"e","c":"Kickxellomycota","v":0.005},{"p":"e","c":"Kickxellomycota","v":0.015},{"p":"e","c":"Kickxellomycota","v":0.025},{"p":"e","c":"Kickxellomycota","v":0.035},{"p":"e","c":"Kickxellomycota","v":0.045},{"p":"e","c":"Kickxellomycota","v":0.055},{"p":"e","c":"Kickxellomycota","v":0.065},{"p":"e","c":"Kickxellomycota","v":0.075},{"p":"e","c":"Kickxellomycota","v":0.09},{"p":"e","c":"Kickxellomycota","v":0.11},{"p":"e","c":"Kickxellomycota","v":0.125},{"p":"e","c":"Kickxellomycota","v":0.167},{"p":"e","c":"Kickxellomycota","v":0.333},
{"p":"e","c":"Glomeromycota","v":0.065},{"p":"e","c":"Glomeromycota","v":0.075},{"p":"e","c":"Glomeromycota","v":0.085},{"p":"e","c":"Glomeromycota","v":0.095},{"p":"e","c":"Glomeromycota","v":0.105},{"p":"e","c":"Glomeromycota","v":0.115},{"p":"e","c":"Glomeromycota","v":0.125},{"p":"e","c":"Glomeromycota","v":0.135},{"p":"e","c":"Glomeromycota","v":0.145},{"p":"e","c":"Glomeromycota","v":0.155},{"p":"e","c":"Glomeromycota","v":0.165},{"p":"e","c":"Glomeromycota","v":0.175},{"p":"e","c":"Glomeromycota","v":0.185},{"p":"e","c":"Glomeromycota","v":0.195},{"p":"e","c":"Glomeromycota","v":0.205},{"p":"e","c":"Glomeromycota","v":0.215},{"p":"e","c":"Glomeromycota","v":0.225},{"p":"e","c":"Glomeromycota","v":0.235},{"p":"e","c":"Glomeromycota","v":0.25},{"p":"e","c":"Glomeromycota","v":0.265},{"p":"e","c":"Glomeromycota","v":0.275},{"p":"e","c":"Glomeromycota","v":0.333},{"p":"e","c":"Glomeromycota","v":0.378},{"p":"e","c":"Glomeromycota","v":0.5},{"p":"e","c":"Glomeromycota","v":1},
{"p":"e","c":"Fungi_X","v":0.005},{"p":"e","c":"Fungi_X","v":0.015},{"p":"e","c":"Fungi_X","v":0.025},{"p":"e","c":"Fungi_X","v":0.035},{"p":"e","c":"Fungi_X","v":0.045},{"p":"e","c":"Fungi_X","v":0.055},{"p":"e","c":"Fungi_X","v":0.065},{"p":"e","c":"Fungi_X","v":0.075},{"p":"e","c":"Fungi_X","v":0.085},{"p":"e","c":"Fungi_X","v":0.095},{"p":"e","c":"Fungi_X","v":0.105},{"p":"e","c":"Fungi_X","v":0.12},{"p":"e","c":"Fungi_X","v":0.135},{"p":"e","c":"Fungi_X","v":0.15},{"p":"e","c":"Fungi_X","v":0.167},{"p":"e","c":"Fungi_X","v":0.2},{"p":"e","c":"Fungi_X","v":0.215},
{"p":"e","c":"Entomophthoromycota","v":0.005},{"p":"e","c":"Entomophthoromycota","v":0.015},{"p":"e","c":"Entomophthoromycota","v":0.025},{"p":"e","c":"Entomophthoromycota","v":0.035},{"p":"e","c":"Entomophthoromycota","v":0.045},{"p":"e","c":"Entomophthoromycota","v":0.055},{"p":"e","c":"Entomophthoromycota","v":0.065},{"p":"e","c":"Entomophthoromycota","v":0.075},{"p":"e","c":"Entomophthoromycota","v":0.095},
{"p":"e","c":"Cryptomycota","v":0.005},{"p":"e","c":"Cryptomycota","v":0.015},{"p":"e","c":"Cryptomycota","v":0.025},{"p":"e","c":"Cryptomycota","v":0.035},{"p":"e","c":"Cryptomycota","v":0.045},{"p":"e","c":"Cryptomycota","v":0.055},{"p":"e","c":"Cryptomycota","v":0.065},{"p":"e","c":"Cryptomycota","v":0.075},{"p":"e","c":"Cryptomycota","v":0.09},{"p":"e","c":"Cryptomycota","v":0.11},{"p":"e","c":"Cryptomycota","v":0.167},{"p":"e","c":"Cryptomycota","v":0.25},
{"p":"e","c":"Chytridiomycota","v":0.065},{"p":"e","c":"Chytridiomycota","v":0.075},{"p":"e","c":"Chytridiomycota","v":0.085},{"p":"e","c":"Chytridiomycota","v":0.095},{"p":"e","c":"Chytridiomycota","v":0.105},{"p":"e","c":"Chytridiomycota","v":0.115},{"p":"e","c":"Chytridiomycota","v":0.125},{"p":"e","c":"Chytridiomycota","v":0.135},{"p":"e","c":"Chytridiomycota","v":0.145},{"p":"e","c":"Chytridiomycota","v":0.155},{"p":"e","c":"Chytridiomycota","v":0.165},{"p":"e","c":"Chytridiomycota","v":0.175},{"p":"e","c":"Chytridiomycota","v":0.185},{"p":"e","c":"Chytridiomycota","v":0.2},{"p":"e","c":"Chytridiomycota","v":0.25},{"p":"e","c":"Chytridiomycota","v":0.286},{"p":"e","c":"Chytridiomycota","v":0.333},{"p":"e","c":"Chytridiomycota","v":0.43},{"p":"e","c":"Chytridiomycota","v":0.5},{"p":"e","c":"Chytridiomycota","v":0.75},{"p":"e","c":"Chytridiomycota","v":1},
{"p":"e","c":"Blastocladiomycota","v":0.005},{"p":"e","c":"Blastocladiomycota","v":0.015},{"p":"e","c":"Blastocladiomycota","v":0.025},{"p":"e","c":"Blastocladiomycota","v":0.035},{"p":"e","c":"Blastocladiomycota","v":0.045},{"p":"e","c":"Blastocladiomycota","v":0.055},{"p":"e","c":"Blastocladiomycota","v":0.065},{"p":"e","c":"Blastocladiomycota","v":0.075},{"p":"e","c":"Blastocladiomycota","v":0.09},{"p":"e","c":"Blastocladiomycota","v":0.167},
{"p":"e","c":"Ascomyc","v":0.008},
{"p":"f","c":"Kickxellomycota","v":0.693},{"p":"f","c":"Kickxellomycota","v":1.099},
{"p":"f","c":"Glomeromycota","v":1.792},{"p":"f","c":"Glomeromycota","v":1.946},
{"p":"f","c":"Entomophthoromycota","v":0.693},
{"p":"f","c":"Cryptomycota","v":0.693},
{"p":"f","c":"Chytridiomycota","v":1.792},{"p":"f","c":"Chytridiomycota","v":1.946},{"p":"f","c":"Chytridiomycota","v":2.079},{"p":"f","c":"Chytridiomycota","v":2.197},{"p":"f","c":"Chytridiomycota","v":2.303},
{"p":"f","c":"Blastocladiomycota","v":0.693},{"p":"f","c":"Blastocladiomycota","v":1.099},
{"p":"f","c":"Ascomycota","v":0},{"p":"f","c":"Ascomycota","v":5.41}
],
"raw": [
{"p":"a","c":"Fungi","v":0.1},{"p":"a","c":"Fungi","v":0.14},{"p":"a","c":"Fungi","v":0.18},{"p":"a","c":"Fungi","v":0.22},{"p":"a","c":"Fungi","v":0.26},{"p":"a","c":"Fungi","v":0.3},{"p":"a","c":"Fungi","v":0.34},{"p":"a","c":"Fungi","v":0.38},{"p":"a","c":"Fungi","v":0.42},{"p":"a","c":"Fungi","v":0.75},{"p":"a","c":"Fungi","v":0.79},{"p":"a","c":"Fungi","v":0.83},{"p":"a","c":"Fungi","v":0.87},{"p":"a","c":"Fungi","v":0.91},{"p":"a","c":"Fungi","v":0.95},{"p":"a","c":"Fungi","v":0.98},
{"p":"b","c":"Streptophyta","v":1.099},{"p":"b","c":"Streptophyta","v":1.386},{"p":"b","c":"Streptophyta","v":1.792},{"p":"b","c":"Streptophyta","v":1.946},{"p":"b","c":"Streptophyta","v":2.079},{"p":"b","c":"Streptophyta","v":2.303},{"p":"b","c":"Streptophyta","v":2.398},{"p":"b","c":"Streptophyta","v":2.485},{"p":"b","c":"Streptophyta","v":2.565},{"p":"b","c":"Streptophyta","v":2.639},{"p":"b","c":"Streptophyta","v":2.708},{"p":"b","c":"Streptophyta","v":2.773},{"p":"b","c":"Streptophyta","v":2.833},{"p":"b","c":"Streptophyta","v":2.89},{"p":"b","c":"Streptophyta","v":2.944},{"p":"b","c":"Streptophyta","v":2.996},{"p":"b","c":"Streptophyta","v":3.045},{"p":"b","c":"Streptophyta","v":3.091},{"p":"b","c":"Streptophyta","v":3.135},{"p":"b","c":"Streptophyta","v":3.178},{"p":"b","c":"Streptophyta","v":3.258},{"p":"b","c":"Streptophyta","v":3.332},{"p":"b","c":"Streptophyta","v":3.401},{"p":"b","c":"Streptophyta","v":3.466},{"p":"b","c":"Streptophyta","v":3.526},{"p":"b","c":"Streptophyta","v":3.611},{"p":"b","c":"Streptophyta","v":3.689},{"p":"b","c":"Streptophyta","v":3.761},{"p":"b","c":"Streptophyta","v":3.85},
{"p":"b","c":"Metazoa","v":0.693},{"p":"b","c":"Metazoa","v":1.099},{"p":"b","c":"Metazoa","v":1.609},{"p":"b","c":"Metazoa","v":1.792},{"p":"b","c":"Metazoa","v":1.946},{"p":"b","c":"Metazoa","v":2.197},{"p":"b","c":"Metazoa","v":2.303},{"p":"b","c":"Metazoa","v":2.398},{"p":"b","c":"Metazoa","v":2.485},{"p":"b","c":"Metazoa","v":2.565},{"p":"b","c":"Metazoa","v":2.639},{"p":"b","c":"Metazoa","v":2.708},{"p":"b","c":"Metazoa","v":2.833},{"p":"b","c":"Metazoa","v":2.89},{"p":"b","c":"Metazoa","v":2.944},{"p":"b","c":"Metazoa","v":2.996},{"p":"b","c":"Metazoa","v":3.045},{"p":"b","c":"Metazoa","v":3.091},{"p":"b","c":"Metazoa","v":3.135},{"p":"b","c":"Metazoa","v":3.178},{"p":"b","c":"Metazoa","v":3.219},{"p":"b","c":"Metazoa","v":3.258},{"p":"b","c":"Metazoa","v":3.296},{"p":"b","c":"Metazoa","v":3.332},{"p":"b","c":"Metazoa","v":3.367},{"p":"b","c":"Metazoa","v":3.401},{"p":"b","c":"Metazoa","v":3.434},{"p":"b","c":"Metazoa","v":3.497},{"p":"b","c":"Metazoa","v":3.555},{"p":"b","c":"Metazoa","v":3.611},{"p":"b","c":"Metazoa","v":3.664},{"p":"b","c":"Metazoa","v":3.738},{"p":"b","c":"Metazoa","v":3.807},{"p":"b","c":"Metazoa","v":3.892},{"p":"b","c":"Metazoa","v":3.97},{"p":"b","c":"Metazoa","v":4.06},{"p":"b","c":"Metazoa","v":4.14},{"p":"b","c":"Metazoa","v":4.25},{"p":"b","c":"Metazoa","v":4.36},{"p":"b","c":"Metazoa","v":4.5},{"p":"b","c":"Metazoa","v":4.6},{"p":"b","c":"Metazoa","v":4.72},{"p":"b","c":"Metazoa","v":4.8},
{"p":"b","c":"Fungi","v":1.099},{"p":"b","c":"Fungi","v":1.386},{"p":"b","c":"Fungi","v":1.609},{"p":"b","c":"Fungi","v":1.792},{"p":"b","c":"Fungi","v":1.946},{"p":"b","c":"Fungi","v":2.079},{"p":"b","c":"Fungi","v":2.197},{"p":"b","c":"Fungi","v":2.303},{"p":"b","c":"Fungi","v":2.398},{"p":"b","c":"Fungi","v":2.485},{"p":"b","c":"Fungi","v":2.565},{"p":"b","c":"Fungi","v":2.639},{"p":"b","c":"Fungi","v":4.127},{"p":"b","c":"Fungi","v":4.19},{"p":"b","c":"Fungi","v":4.25},{"p":"b","c":"Fungi","v":4.3},{"p":"b","c":"Fungi","v":4.38},{"p":"b","c":"Fungi","v":4.45},{"p":"b","c":"Fungi","v":4.5},{"p":"b","c":"Fungi","v":4.6},{"p":"b","c":"Fungi","v":4.7},{"p":"b","c":"Fungi","v":4.8},{"p":"b","c":"Fungi","v":4.9},{"p":"b","c":"Fungi","v":5},{"p":"b","c":"Fungi","v":5.1},{"p":"b","c":"Fungi","v":5.2},{"p":"b","c":"Fungi","v":5.3},{"p":"b","c":"Fungi","v":5.4},{"p":"b","c":"Fungi","v":5.5},{"p":"b","c":"Fungi","v":5.6},{"p":"b","c":"Fungi","v":5.75},
{"p":"b","c":"Ochrophyta","v":1.099},{"p":"b","c":"Ochrophyta","v":1.386},
{"p":"b","c":"Lobosa","v":1.099},{"p":"b","c":"Lobosa","v":1.386},
{"p":"b","c":"Discoba","v":1.099},{"p":"b","c":"Discoba","v":1.386},
{"p":"b","c":"Conosa","v":1.099},{"p":"b","c":"Conosa","v":1.386},
{"p":"b","c":"Chlorophyta","v":1.099},{"p":"b","c":"Chlorophyta","v":1.386},
{"p":"b","c":"Apicomplexa","v":1.099},{"p":"b","c":"Apicomplexa","v":1.386},
{"p":"b","c":"Ciliophora","v":1.099},{"p":"b","c":"Ciliophora","v":1.609},{"p":"b","c":"Ciliophora","v":1.792},{"p":"b","c":"Ciliophora","v":1.946},{"p":"b","c":"Ciliophora","v":2.079},{"p":"b","c":"Ciliophora","v":2.197},{"p":"b","c":"Ciliophora","v":2.303},{"p":"b","c":"Ciliophora","v":2.398},{"p":"b","c":"Ciliophora","v":2.485},{"p":"b","c":"Ciliophora","v":2.565},{"p":"b","c":"Ciliophora","v":2.639},{"p":"b","c":"Ciliophora","v":2.708},{"p":"b","c":"Ciliophora","v":2.773},{"p":"b","c":"Ciliophora","v":2.833},{"p":"b","c":"Ciliophora","v":2.89},{"p":"b","c":"Ciliophora","v":2.944},{"p":"b","c":"Ciliophora","v":2.996},{"p":"b","c":"Ciliophora","v":3.045},{"p":"b","c":"Ciliophora","v":3.135},{"p":"b","c":"Ciliophora","v":3.219},{"p":"b","c":"Ciliophora","v":3.296},
{"p":"b","c":"Cercozoa","v":1.099},{"p":"b","c":"Cercozoa","v":1.609},{"p":"b","c":"Cercozoa","v":1.946},{"p":"b","c":"Cercozoa","v":2.079},{"p":"b","c":"Cercozoa","v":2.197},{"p":"b","c":"Cercozoa","v":2.303},{"p":"b","c":"Cercozoa","v":2.398},{"p":"b","c":"Cercozoa","v":2.485},{"p":"b","c":"Cercozoa","v":2.565},{"p":"b","c":"Cercozoa","v":2.639},{"p":"b","c":"Cercozoa","v":2.708},{"p":"b","c":"Cercozoa","v":2.773},{"p":"b","c":"Cercozoa","v":2.833},{"p":"b","c":"Cercozoa","v":2.89},{"p":"b","c":"Cercozoa","v":2.944},{"p":"b","c":"Cercozoa","v":2.996},{"p":"b","c":"Cercozoa","v":3.045},{"p":"b","c":"Cercozoa","v":3.091},{"p":"b","c":"Cercozoa","v":3.135},{"p":"b","c":"Cercozoa","v":3.178},{"p":"b","c":"Cercozoa","v":3.219},{"p":"b","c":"Cercozoa","v":3.258},{"p":"b","c":"Cercozoa","v":3.296},{"p":"b","c":"Cercozoa","v":3.332},{"p":"b","c":"Cercozoa","v":3.367},
{"p":"c","c":"Nematoda","v":0.01},{"p":"c","c":"Nematoda","v":0.04},{"p":"c","c":"Nematoda","v":0.07},{"p":"c","c":"Nematoda","v":0.1},{"p":"c","c":"Nematoda","v":0.13},{"p":"c","c":"Nematoda","v":0.16},{"p":"c","c":"Nematoda","v":0.19},{"p":"c","c":"Nematoda","v":0.22},{"p":"c","c":"Nematoda","v":0.25},{"p":"c","c":"Nematoda","v":0.31},{"p":"c","c":"Nematoda","v":0.34},{"p":"c","c":"Nematoda","v":0.37},{"p":"c","c":"Nematoda","v":0.4},{"p":"c","c":"Nematoda","v":0.43},{"p":"c","c":"Nematoda","v":0.46},{"p":"c","c":"Nematoda","v":0.49},{"p":"c","c":"Nematoda","v":0.55},{"p":"c","c":"Nematoda","v":0.58},{"p":"c","c":"Nematoda","v":0.61},{"p":"c","c":"Nematoda","v":0.64},{"p":"c","c":"Nematoda","v":0.67},{"p":"c","c":"Nematoda","v":0.7},{"p":"c","c":"Nematoda","v":0.73},{"p":"c","c":"Nematoda","v":0.76},{"p":"c","c":"Nematoda","v":0.79},{"p":"c","c":"Nematoda","v":0.82},{"p":"c","c":"Nematoda","v":0.85},{"p":"c","c":"Nematoda","v":0.88},{"p":"c","c":"Nematoda","v":0.91},{"p":"c","c":"Nematoda","v":0.94},
{"p":"c","c":"Arthropoda","v":0.02},{"p":"c","c":"Arthropoda","v":0.05},{"p":"c","c":"Arthropoda","v":0.08},{"p":"c","c":"Arthropoda","v":0.11},{"p":"c","c":"Arthropoda","v":0.14},{"p":"c","c":"Arthropoda","v":0.17},{"p":"c","c":"Arthropoda","v":0.2},{"p":"c","c":"Arthropoda","v":0.23},{"p":"c","c":"Arthropoda","v":0.26},{"p":"c","c":"Arthropoda","v":0.29},{"p":"c","c":"Arthropoda","v":0.32},{"p":"c","c":"Arthropoda","v":0.35},{"p":"c","c":"Arthropoda","v":0.38},{"p":"c","c":"Arthropoda","v":0.43},{"p":"c","c":"Arthropoda","v":0.46},{"p":"c","c":"Arthropoda","v":0.49},{"p":"c","c":"Arthropoda","v":0.52},{"p":"c","c":"Arthropoda","v":0.55},{"p":"c","c":"Arthropoda","v":0.58},{"p":"c","c":"Arthropoda","v":0.61},{"p":"c","c":"Arthropoda","v":0.68},{"p":"c","c":"Arthropoda","v":0.71},{"p":"c","c":"Arthropoda","v":0.74},{"p":"c","c":"Arthropoda","v":0.77},{"p":"c","c":"Arthropoda","v":0.8},{"p":"c","c":"Arthropoda","v":0.83},{"p":"c","c":"Arthropoda","v":0.86},{"p":"c","c":"Arthropoda","v":0.89},{"p":"c","c":"Arthropoda","v":0.92},{"p":"c","c":"Arthropoda","v":0.95},
{"p":"c","c":"Annelida","v":0.03},{"p":"c","c":"Annelida","v":0.06},{"p":"c","c":"Annelida","v":0.09},{"p":"c","c":"Annelida","v":0.14},{"p":"c","c":"Annelida","v":0.17},{"p":"c","c":"Annelida","v":0.2},{"p":"c","c":"Annelida","v":0.23},{"p":"c","c":"Annelida","v":0.26},
{"p":"d","c":"Tardigrada","v":0.693},{"p":"d","c":"Tardigrada","v":1.386},{"p":"d","c":"Tardigrada","v":1.609},{"p":"d","c":"Tardigrada","v":1.792},{"p":"d","c":"Tardigrada","v":1.946},
{"p":"d","c":"Rotifera","v":1.099},{"p":"d","c":"Rotifera","v":1.386},
{"p":"d","c":"Platyhelminthes","v":1.099},{"p":"d","c":"Platyhelminthes","v":1.386},
{"p":"d","c":"Gastrotricha","v":1.099},{"p":"d","c":"Gastrotricha","v":1.386},
{"p":"d","c":"Nematoda","v":1.386},{"p":"d","c":"Nematoda","v":1.792},{"p":"d","c":"Nematoda","v":1.946},{"p":"d","c":"Nematoda","v":2.079},{"p":"d","c":"Nematoda","v":2.197},{"p":"d","c":"Nematoda","v":2.303},{"p":"d","c":"Nematoda","v":2.398},{"p":"d","c":"Nematoda","v":2.485},{"p":"d","c":"Nematoda","v":2.565},{"p":"d","c":"Nematoda","v":2.639},{"p":"d","c":"Nematoda","v":2.708},{"p":"d","c":"Nematoda","v":2.773},{"p":"d","c":"Nematoda","v":2.833},{"p":"d","c":"Nematoda","v":2.89},
{"p":"d","c":"Arthropoda","v":1.099},{"p":"d","c":"Arthropoda","v":1.609},{"p":"d","c":"Arthropoda","v":1.792},{"p":"d","c":"Arthropoda","v":1.946},{"p":"d","c":"Arthropoda","v":2.079},{"p":"d","c":"Arthropoda","v":2.303},{"p":"d","c":"Arthropoda","v":2.398},{"p":"d","c":"Arthropoda","v":2.485},{"p":"d","c":"Arthropoda","v":2.565},{"p":"d","c":"Arthropoda","v":2.639},{"p":"d","c":"Arthropoda","v":2.708},{"p":"d","c":"Arthropoda","v":2.773},{"p":"d","c":"Arthropoda","v":2.833},{"p":"d","c":"Arthropoda","v":2.89},{"p":"d","c":"Arthropoda","v":2.944},{"p":"d","c":"Arthropoda","v":2.996},{"p":"d","c":"Arthropoda","v":3.045},{"p":"d","c":"Arthropoda","v":3.091},{"p":"d","c":"Arthropoda","v":3.135},{"p":"d","c":"Arthropoda","v":3.178},{"p":"d","c":"Arthropoda","v":3.258},{"p":"d","c":"Arthropoda","v":3.332},{"p":"d","c":"Arthropoda","v":3.401},{"p":"d","c":"Arthropoda","v":3.497},{"p":"d","c":"Arthropoda","v":3.584},{"p":"d","c":"Arthropoda","v":3.689},{"p":"d","c":"Arthropoda","v":3.807},{"p":"d","c":"Arthropoda","v":3.932},{"p":"d","c":"Arthropoda","v":4.06},
{"p":"d","c":"Annelida","v":1.099},{"p":"d","c":"Annelida","v":1.386},{"p":"d","c":"Annelida","v":1.792},{"p":"d","c":"Annelida","v":1.946},{"p":"d","c":"Annelida","v":2.079},{"p":"d","c":"Annelida","v":2.197},{"p":"d","c":"Annelida","v":2.303},{"p":"d","c":"Annelida","v":2.398},{"p":"d","c":"Annelida","v":2.485},{"p":"d","c":"Annelida","v":2.565},{"p":"d","c":"Annelida","v":2.639},{"p":"d","c":"Annelida","v":2.708},{"p":"d","c":"Annelida","v":2.773},{"p":"d","c":"Annelida","v":2.833},{"p":"d","c":"Annelida","v":2.89},{"p":"d","c":"Annelida","v":2.944},
{"p":"e","c":"Basidiomycota","v":0.02},{"p":"e","c":"Basidiomycota","v":0.05},{"p":"e","c":"Basidiomycota","v":0.08},{"p":"e","c":"Basidiomycota","v":0.11},{"p":"e","c":"Basidiomycota","v":0.14},{"p":"e","c":"Basidiomycota","v":0.2},{"p":"e","c":"Basidiomycota","v":0.25},{"p":"e","c":"Basidiomycota","v":0.3},{"p":"e","c":"Basidiomycota","v":0.35},{"p":"e","c":"Basidiomycota","v":0.45},{"p":"e","c":"Basidiomycota","v":0.5},{"p":"e","c":"Basidiomycota","v":0.55},{"p":"e","c":"Basidiomycota","v":0.65},{"p":"e","c":"Basidiomycota","v":0.68},{"p":"e","c":"Basidiomycota","v":0.71},{"p":"e","c":"Basidiomycota","v":0.74},{"p":"e","c":"Basidiomycota","v":0.77},{"p":"e","c":"Basidiomycota","v":0.8},{"p":"e","c":"Basidiomycota","v":0.83},{"p":"e","c":"Basidiomycota","v":0.86},{"p":"e","c":"Basidiomycota","v":0.89},{"p":"e","c":"Basidiomycota","v":0.92},{"p":"e","c":"Basidiomycota","v":0.95},{"p":"e","c":"Basidiomycota","v":0.98},
{"p":"e","c":"Ascomycota","v":0.02},{"p":"e","c":"Ascomycota","v":0.05},{"p":"e","c":"Ascomycota","v":0.08},{"p":"e","c":"Ascomycota","v":0.11},{"p":"e","c":"Ascomycota","v":0.14},{"p":"e","c":"Ascomycota","v":0.17},{"p":"e","c":"Ascomycota","v":0.2},{"p":"e","c":"Ascomycota","v":0.23},{"p":"e","c":"Ascomycota","v":0.26},{"p":"e","c":"Ascomycota","v":0.33},{"p":"e","c":"Ascomycota","v":0.38},{"p":"e","c":"Ascomycota","v":0.43},{"p":"e","c":"Ascomycota","v":0.55},{"p":"e","c":"Ascomycota","v":0.6},{"p":"e","c":"Ascomycota","v":0.7},{"p":"e","c":"Ascomycota","v":0.73},{"p":"e","c":"Ascomycota","v":0.76},{"p":"e","c":"Ascomycota","v":0.79},{"p":"e","c":"Ascomycota","v":0.82},{"p":"e","c":"Ascomycota","v":0.85},{"p":"e","c":"Ascomycota","v":0.88},{"p":"e","c":"Ascomycota","v":0.91},{"p":"e","c":"Ascomycota","v":0.94},{"p":"e","c":"Ascomycota","v":0.97},
{"p":"f","c":"Mucoromycota","v":1.386},{"p":"f","c":"Mucoromycota","v":1.609},{"p":"f","c":"Mucoromycota","v":1.792},{"p":"f","c":"Mucoromycota","v":1.946},
{"p":"f","c":"Glomeromycota","v":1.099},{"p":"f","c":"Glomeromycota","v":1.386},
{"p":"f","c":"Chytridiomycota","v":1.099},{"p":"f","c":"Chytridiomycota","v":1.386},
{"p":"f","c":"Basidiomycota","v":0.693},{"p":"f","c":"Basidiomycota","v":1.099},{"p":"f","c":"Basidiomycota","v":1.609},{"p":"f","c":"Basidiomycota","v":1.792},{"p":"f","c":"Basidiomycota","v":1.946},{"p":"f","c":"Basidiomycota","v":2.079},{"p":"f","c":"Basidiomycota","v":2.197},{"p":"f","c":"Basidiomycota","v":2.303},{"p":"f","c":"Basidiomycota","v":2.398},{"p":"f","c":"Basidiomycota","v":2.565},{"p":"f","c":"Basidiomycota","v":2.639},{"p":"f","c":"Basidiomycota","v":2.708},{"p":"f","c":"Basidiomycota","v":2.773},{"p":"f","c":"Basidiomycota","v":2.833},{"p":"f","c":"Basidiomycota","v":2.89},{"p":"f","c":"Basidiomycota","v":2.944},{"p":"f","c":"Basidiomycota","v":2.996},{"p":"f","c":"Basidiomycota","v":3.045},{"p":"f","c":"Basidiomycota","v":3.091},{"p":"f","c":"Basidiomycota","v":3.135},{"p":"f","c":"Basidiomycota","v":3.178},{"p":"f","c":"Basidiomycota","v":3.219},{"p":"f","c":"Basidiomycota","v":3.3},{"p":"f","c":"Basidiomycota","v":3.4},{"p":"f","c":"Basidiomycota","v":3.5},{"p":"f","c":"Basidiomycota","v":3.6},{"p":"f","c":"Basidiomycota","v":3.7},{"p":"f","c":"Basidiomycota","v":3.8},{"p":"f","c":"Basidiomycota","v":3.9},{"p":"f","c":"Basidiomycota","v":4},{"p":"f","c":"Basidiomycota","v":4.1},{"p":"f","c":"Basidiomycota","v":4.2},{"p":"f","c":"Basidiomycota","v":4.3},{"p":"f","c":"Basidiomycota","v":4.4},{"p":"f","c":"Basidiomycota","v":4.5},{"p":"f","c":"Basidiomycota","v":4.6},{"p":"f","c":"Basidiomycota","v":4.7},
{"p":"f","c":"Ascomycota","v":1.099},{"p":"f","c":"Ascomycota","v":1.386},{"p":"f","c":"Ascomycota","v":1.609},{"p":"f","c":"Ascomycota","v":1.792},{"p":"f","c":"Ascomycota","v":1.946},{"p":"f","c":"Ascomycota","v":2.197},{"p":"f","c":"Ascomycota","v":2.303},{"p":"f","c":"Ascomycota","v":2.398},{"p":"f","c":"Ascomycota","v":2.485},{"p":"f","c":"Ascomycota","v":2.565},{"p":"f","c":"Ascomycota","v":2.639},{"p":"f","c":"Ascomycota","v":2.708},{"p":"f","c":"Ascomycota","v":2.833},{"p":"f","c":"Ascomycota","v":2.89},{"p":"f","c":"Ascomycota","v":2.944},{"p":"f","c":"Ascomycota","v":2.996},{"p":"f","c":"Ascomycota","v":3.045},{"p":"f","c":"Ascomycota","v":3.091},{"p":"f","c":"Ascomycota","v":3.135},{"p":"f","c":"Ascomycota","v":3.178},{"p":"f","c":"Ascomycota","v":3.219},{"p":"f","c":"Ascomycota","v":3.258},{"p":"f","c":"Ascomycota","v":3.296},{"p":"f","c":"Ascomycota","v":3.332},{"p":"f","c":"Ascomycota","v":3.43},{"p":"f","c":"Ascomycota","v":3.5},{"p":"f","c":"Ascomycota","v":3.6},{"p":"f","c":"Ascomycota","v":3.7},{"p":"f","c":"Ascomycota","v":3.8},{"p":"f","c":"Ascomycota","v":3.9},{"p":"f","c":"Ascomycota","v":4},{"p":"f","c":"Ascomycota","v":4.1},{"p":"f","c":"Ascomycota","v":4.2},{"p":"f","c":"Ascomycota","v":4.3},{"p":"f","c":"Ascomycota","v":4.4},{"p":"f","c":"Ascomycota","v":4.5},{"p":"f","c":"Ascomycota","v":4.6},{"p":"f","c":"Ascomycota","v":4.7},{"p":"f","c":"Ascomycota","v":4.8},{"p":"f","c":"Ascomycota","v":4.9}
]
},
"spacing": 4,
"vconcat": [
{
 "title": {"text": "All Superkingdoms", "fontSize": 20, "fontWeight": "bold", "anchor": "middle", "offset": 14},
 "spacing": 0,
 "resolve": {"scale": {"color": "independent"}},
 "hconcat": [
  {"width": 1, "height": 1, "view": {"stroke": null}, "data": {"name": "none"}, "mark": {"type": "point", "opacity": 0}, "encoding": {}},
  {
 "spacing": 23,
 "resolve": {"scale": {"color": "independent"}},
 "hconcat": [
  {
   "width": 234, "height": 384,
   "layer": [
    {"data": {"name": "box"}, "transform": [{"filter": {"field": "p", "equal": "a"}}],
     "mark": {"type": "rule", "strokeWidth": 1},
     "encoding": {
      "y": {"field": "c", "type": "nominal", "scale": {"domain": ["Telonemia","Streptophyta","Stramenopiles_X","Sagenista","Rhodophyta","Radiolaria","Pseudofungi","Protalveolata_X","Prasinodermophyta","Picozoa","Perkinsea","Opisthokonta_X","Opalozoa","Ochrophyta","Metazoa","Metamonada","Mesomycetozoa","Lobosa","Katablepharidophyta","Hilomonadea","Hemimastigophora","Haptophyta","Glaucophyta","Fungi","Foraminifera","Eukaryota_XX","Discoba","Dinoflagellata","Cryptophyta","Conosa","Ciliophora","Chrompodellids","Choanoflagellida","Chlorophyta","Cercozoa","Centroheliozoa","Breviatea","Apusomonadidae","Apicomplexa","Alveolata_X"], "paddingInner": 0.25, "paddingOuter": 0.225}, "axis": {"title": "(a)", "titleX": -99, "titleY": 7, "minExtent": 113, "maxExtent": 113}},
      "x": {"field": "lo", "type": "quantitative", "scale": {"domain": [-0.05, 1.05], "nice": false, "zero": false}, "axis": {"title": "Relative Abundance", "values": [0, 0.25, 0.5, 0.75, 1], "format": ".2f"}},
      "x2": {"field": "q1"},
      "color": {"field": "c", "type": "nominal", "legend": null, "scale": {"domain": ["Alveolata_X","Apicomplexa","Apusomonadidae","Breviatea","Centroheliozoa","Cercozoa","Chlorophyta","Choanoflagellida","Chrompodellids","Ciliophora","Conosa","Cryptophyta","Dinoflagellata","Discoba","Eukaryota_XX","Foraminifera","Fungi","Glaucophyta","Haptophyta","Hemimastigophora","Hilomonadea","Katablepharidophyta","Lobosa","Mesomycetozoa","Metamonada","Metazoa","Ochrophyta","Opalozoa","Opisthokonta_X","Perkinsea","Picozoa","Prasinodermophyta","Protalveolata_X","Pseudofungi","Radiolaria","Rhodophyta","Sagenista","Stramenopiles_X","Streptophyta","Telonemia"], "range": ["#F8766D","#F17D51","#EA8332","#E18A08","#D89000","#CD9600","#C09C00","#B2A100","#A3A500","#91AA00","#7CAE00","#5FB200","#39B600","#0CB92A","#00BC4B","#00BE67","#00BF7D","#00C091","#00C1A3","#00C0B3","#00BFC4","#00BCD2","#00BAE0","#00B5ED","#00B0F6","#00A9FF","#3AA1FF","#6E99FF","#9590FF","#AF86FF","#C77CFF","#D973FB","#E76BF3","#F266E7","#F962DB","#FF61CC","#FF62BC","#FE66A9","#FC6B95","#FA7181"]}}
     }},
    {"data": {"name": "box"}, "transform": [{"filter": {"field": "p", "equal": "a"}}],
     "mark": {"type": "rule", "strokeWidth": 1},
     "encoding": {"y": {"field": "c", "type": "nominal"}, "x": {"field": "q3", "type": "quantitative"}, "x2": {"field": "hi"}, "color": {"field": "c", "type": "nominal"}}},
    {"data": {"name": "box"}, "transform": [{"filter": {"field": "p", "equal": "a"}}],
     "mark": {"type": "bar", "filled": false, "strokeWidth": 1},
     "encoding": {"y": {"field": "c", "type": "nominal"}, "x": {"field": "q1", "type": "quantitative"}, "x2": {"field": "q3"}, "color": {"field": "c", "type": "nominal"}}},
    {"data": {"name": "box"}, "transform": [{"filter": {"field": "p", "equal": "a"}}],
     "mark": {"type": "bar", "filled": false, "strokeWidth": 2},
     "encoding": {"y": {"field": "c", "type": "nominal"}, "x": {"field": "md", "type": "quantitative"}, "x2": {"field": "md"}, "color": {"field": "c", "type": "nominal"}}},
    {"data": {"name": "raw"}, "transform": [{"filter": {"field": "p", "equal": "a"}}],
     "mark": {"type": "circle", "size": 3, "opacity": 1},
     "encoding": {"y": {"field": "c", "type": "nominal"}, "x": {"field": "v", "type": "quantitative"}, "color": {"field": "c", "type": "nominal"}}},
    {"data": {"name": "out"}, "transform": [{"filter": {"field": "p", "equal": "a"}}],
     "mark": {"type": "circle", "size": 14, "opacity": 1},
     "encoding": {"y": {"field": "c", "type": "nominal"}, "x": {"field": "v", "type": "quantitative"}, "color": {"field": "c", "type": "nominal"}}}
   ]
  },
  {
   "width": 234, "height": 384,
   "layer": [
    {"data": {"name": "box"}, "transform": [{"filter": {"field": "p", "equal": "b"}}],
     "mark": {"type": "rule", "strokeWidth": 1},
     "encoding": {
      "y": {"field": "c", "type": "nominal", "scale": {"domain": ["Telonemia","Streptophyta","Sagenista","Rhodophyta","Radiolaria","Pseudofungi","Prasinodermophyta","Picozoa","Perkinsea","Opalozoa","Ochrophyta","Metazoa","Metamonada","Mesomycetozoa","Lobosa","Katablepharidophyta","Hilomonadea","Hemimastigophora","Haptophyta","Glaucophyta","Fungi","Foraminifera","Discoba","Dinoflagellata","Cryptophyta","Conosa","Ciliophora","Chrompodellids","Choanoflagellida","Chlorophyta","Cercozoa","Centroheliozoa","Breviatea","Apusomonadidae","Apicomplexa"], "paddingInner": 0.25, "paddingOuter": 0.225}, "axis": {"title": "(b)", "titleX": -92, "titleY": 6, "minExtent": 96, "maxExtent": 96}},
      "x": {"field": "lo", "type": "quantitative", "scale": {"domain": [-0.28, 6.19], "nice": false, "zero": false}, "axis": {"title": "log(Unique ASVs)", "values": [0, 2, 4, 6]}},
      "x2": {"field": "q1"},
      "color": {"field": "c", "type": "nominal", "legend": null, "scale": {"domain": ["Apicomplexa","Apusomonadidae","Breviatea","Centroheliozoa","Cercozoa","Chlorophyta","Choanoflagellida","Chrompodellids","Ciliophora","Conosa","Cryptophyta","Dinoflagellata","Discoba","Foraminifera","Fungi","Glaucophyta","Haptophyta","Hemimastigophora","Hilomonadea","Katablepharidophyta","Lobosa","Mesomycetozoa","Metamonada","Metazoa","Ochrophyta","Opalozoa","Perkinsea","Picozoa","Prasinodermophyta","Pseudofungi","Radiolaria","Rhodophyta","Sagenista","Streptophyta","Telonemia"], "range": ["#F8766D","#F07E4D","#E78527","#DD8D00","#D29300","#C49A00","#B4A000","#A3A500","#8EAB00","#74AF00","#53B400","#21B818","#00BB43","#00BE63","#00BF7D","#00C094","#00C1A8","#00C0BB","#00BECC","#00BADC","#00B6EB","#00B0F6","#08A8FF","#4B9FFF","#7F95FF","#A58AFF","#C07FFF","#D674FC","#E76BF3","#F365E5","#FB61D7","#FF61C5","#FF64B2","#FD6A9B","#FA7084"]}}
     }},
    {"data": {"name": "box"}, "transform": [{"filter": {"field": "p", "equal": "b"}}],
     "mark": {"type": "rule", "strokeWidth": 1},
     "encoding": {"y": {"field": "c", "type": "nominal"}, "x": {"field": "q3", "type": "quantitative"}, "x2": {"field": "hi"}, "color": {"field": "c", "type": "nominal"}}},
    {"data": {"name": "box"}, "transform": [{"filter": {"field": "p", "equal": "b"}}],
     "mark": {"type": "bar", "filled": false, "strokeWidth": 1},
     "encoding": {"y": {"field": "c", "type": "nominal"}, "x": {"field": "q1", "type": "quantitative"}, "x2": {"field": "q3"}, "color": {"field": "c", "type": "nominal"}}},
    {"data": {"name": "box"}, "transform": [{"filter": {"field": "p", "equal": "b"}}],
     "mark": {"type": "bar", "filled": false, "strokeWidth": 2},
     "encoding": {"y": {"field": "c", "type": "nominal"}, "x": {"field": "md", "type": "quantitative"}, "x2": {"field": "md"}, "color": {"field": "c", "type": "nominal"}}},
    {"data": {"name": "raw"}, "transform": [{"filter": {"field": "p", "equal": "b"}}],
     "mark": {"type": "circle", "size": 3, "opacity": 1},
     "encoding": {"y": {"field": "c", "type": "nominal"}, "x": {"field": "v", "type": "quantitative"}, "color": {"field": "c", "type": "nominal"}}},
    {"data": {"name": "out"}, "transform": [{"filter": {"field": "p", "equal": "b"}}],
     "mark": {"type": "circle", "size": 14, "opacity": 1},
     "encoding": {"y": {"field": "c", "type": "nominal"}, "x": {"field": "v", "type": "quantitative"}, "color": {"field": "c", "type": "nominal"}}}
   ]
  }
 ]
  }
 ]
},
{
 "title": {"text": ["", "Metazoa"], "lineHeight": 8, "fontSize": 20, "fontWeight": "bold", "anchor": "middle", "offset": 16},
 "spacing": 0,
 "resolve": {"scale": {"color": "independent"}},
 "hconcat": [
  {"width": 1, "height": 1, "view": {"stroke": null}, "data": {"name": "none"}, "mark": {"type": "point", "opacity": 0}, "encoding": {}},
  {
 "spacing": 9,
 "resolve": {"scale": {"color": "independent"}},
 "hconcat": [
  {
   "width": 251, "height": 383,
   "layer": [
    {"data": {"name": "box"}, "transform": [{"filter": {"field": "p", "equal": "c"}}],
     "mark": {"type": "rule", "strokeWidth": 1},
     "encoding": {
      "y": {"field": "c", "type": "nominal", "scale": {"domain": ["Urochordata","Tardigrada","Rotifera","Porifera","Platyhelminthes","Nemertea","Nematomorpha","Nematoda","Mollusca","Metazoa_X","Kinorhyncha","Hemichordata","Gnathostomulida","Gastrotricha","Entoprocta","Echinodermata","Ctenophora","Craniata","Cnidaria","Bryozoa","Brachiopoda","Arthropoda","Annelida"], "paddingInner": 0.25, "paddingOuter": 0.225}, "axis": {"title": "(c)", "titleX": -87, "titleY": -4, "minExtent": 99, "maxExtent": 99}},
      "x": {"field": "lo", "type": "quantitative", "scale": {"domain": [-0.05, 1.05], "nice": false, "zero": false}, "axis": {"title": "Relative Abundance", "values": [0, 0.25, 0.5, 0.75, 1], "format": ".2f"}},
      "x2": {"field": "q1"},
      "color": {"field": "c", "type": "nominal", "legend": null, "scale": {"domain": ["Annelida","Arthropoda","Brachiopoda","Bryozoa","Cnidaria","Craniata","Ctenophora","Echinodermata","Entoprocta","Gastrotricha","Gnathostomulida","Hemichordata","Kinorhyncha","Metazoa_X","Mollusca","Nematoda","Nematomorpha","Nemertea","Platyhelminthes","Porifera","Rotifera","Tardigrada","Urochordata"], "range": ["#F8766D","#EC823B","#DD8D00","#CA9700","#B3A000","#96A900","#70B000","#31B708","#00BB48","#00BF75","#00C098","#00C0B6","#00BDD0","#00B7E8","#00AEF9","#3FA1FF","#8E92FF","#BD80FF","#DE71F9","#F266E7","#FE61CF","#FF64B3","#FC6D90"]}}
     }},
    {"data": {"name": "box"}, "transform": [{"filter": {"field": "p", "equal": "c"}}],
     "mark": {"type": "rule", "strokeWidth": 1},
     "encoding": {"y": {"field": "c", "type": "nominal"}, "x": {"field": "q3", "type": "quantitative"}, "x2": {"field": "hi"}, "color": {"field": "c", "type": "nominal"}}},
    {"data": {"name": "box"}, "transform": [{"filter": {"field": "p", "equal": "c"}}],
     "mark": {"type": "bar", "filled": false, "strokeWidth": 1},
     "encoding": {"y": {"field": "c", "type": "nominal"}, "x": {"field": "q1", "type": "quantitative"}, "x2": {"field": "q3"}, "color": {"field": "c", "type": "nominal"}}},
    {"data": {"name": "box"}, "transform": [{"filter": {"field": "p", "equal": "c"}}],
     "mark": {"type": "bar", "filled": false, "strokeWidth": 2},
     "encoding": {"y": {"field": "c", "type": "nominal"}, "x": {"field": "md", "type": "quantitative"}, "x2": {"field": "md"}, "color": {"field": "c", "type": "nominal"}}},
    {"data": {"name": "raw"}, "transform": [{"filter": {"field": "p", "equal": "c"}}],
     "mark": {"type": "circle", "size": 3, "opacity": 1},
     "encoding": {"y": {"field": "c", "type": "nominal"}, "x": {"field": "v", "type": "quantitative"}, "color": {"field": "c", "type": "nominal"}}},
    {"data": {"name": "out"}, "transform": [{"filter": {"field": "p", "equal": "c"}}],
     "mark": {"type": "circle", "size": 16, "opacity": 1},
     "encoding": {"y": {"field": "c", "type": "nominal"}, "x": {"field": "v", "type": "quantitative"}, "color": {"field": "c", "type": "nominal"}}}
   ]
  },
  {
   "width": 251, "height": 383,
   "layer": [
    {"data": {"name": "box"}, "transform": [{"filter": {"field": "p", "equal": "d"}}],
     "mark": {"type": "rule", "strokeWidth": 1},
     "encoding": {
      "y": {"field": "c", "type": "nominal", "scale": {"domain": ["Urochordata","Tardigrada","Rotifera","Porifera","Platyhelminthes","Nemertea","Nematomorpha","Nematoda","Mollusca","Kinorhyncha","Hemichordata","Gnathostomulida","Gastrotricha","Entoprocta","Echinodermata","Ctenophora","Craniata","Cnidaria","Bryozoa","Brachiopoda","Arthropoda","Annelida"], "paddingInner": 0.25, "paddingOuter": 0.225}, "axis": {"title": "(d)", "titleX": -93, "titleY": -9, "minExtent": 80, "maxExtent": 80}},
      "x": {"field": "lo", "type": "quantitative", "scale": {"domain": [-0.225, 4.725], "nice": false, "zero": false}, "axis": {"title": "log(Unique ASVs)", "values": [0, 1, 2, 3, 4]}},
      "x2": {"field": "q1"},
      "color": {"field": "c", "type": "nominal", "legend": null, "scale": {"domain": ["Annelida","Arthropoda","Brachiopoda","Bryozoa","Cnidaria","Craniata","Ctenophora","Echinodermata","Entoprocta","Gastrotricha","Gnathostomulida","Hemichordata","Kinorhyncha","Mollusca","Nematoda","Nematomorpha","Nemertea","Platyhelminthes","Porifera","Rotifera","Tardigrada","Urochordata"], "range": ["#F8766D","#EC8238","#DB8E00","#C79900","#AEA200","#8FAB00","#62B200","#1AB81E","#00BD5A","#00C085","#00C1A6","#00BFC4","#00BADD","#00B2F3","#1BA5FF","#7997FF","#B185FF","#D774FC","#EF67EA","#FC61D3","#FF63B5","#FC6C92"]}}
     }},
    {"data": {"name": "box"}, "transform": [{"filter": {"field": "p", "equal": "d"}}],
     "mark": {"type": "rule", "strokeWidth": 1},
     "encoding": {"y": {"field": "c", "type": "nominal"}, "x": {"field": "q3", "type": "quantitative"}, "x2": {"field": "hi"}, "color": {"field": "c", "type": "nominal"}}},
    {"data": {"name": "box"}, "transform": [{"filter": {"field": "p", "equal": "d"}}],
     "mark": {"type": "bar", "filled": false, "strokeWidth": 1},
     "encoding": {"y": {"field": "c", "type": "nominal"}, "x": {"field": "q1", "type": "quantitative"}, "x2": {"field": "q3"}, "color": {"field": "c", "type": "nominal"}}},
    {"data": {"name": "box"}, "transform": [{"filter": {"field": "p", "equal": "d"}}],
     "mark": {"type": "bar", "filled": false, "strokeWidth": 2},
     "encoding": {"y": {"field": "c", "type": "nominal"}, "x": {"field": "md", "type": "quantitative"}, "x2": {"field": "md"}, "color": {"field": "c", "type": "nominal"}}},
    {"data": {"name": "raw"}, "transform": [{"filter": {"field": "p", "equal": "d"}}],
     "mark": {"type": "circle", "size": 3, "opacity": 1},
     "encoding": {"y": {"field": "c", "type": "nominal"}, "x": {"field": "v", "type": "quantitative"}, "color": {"field": "c", "type": "nominal"}}},
    {"data": {"name": "out"}, "transform": [{"filter": {"field": "p", "equal": "d"}}],
     "mark": {"type": "circle", "size": 16, "opacity": 1},
     "encoding": {"y": {"field": "c", "type": "nominal"}, "x": {"field": "v", "type": "quantitative"}, "color": {"field": "c", "type": "nominal"}}}
   ]
  }
 ]
  }
 ]
},
{
 "title": {"text": "Fungi", "fontSize": 20, "fontWeight": "bold", "anchor": "middle", "offset": 10},
 "spacing": 0,
 "resolve": {"scale": {"color": "independent"}},
 "hconcat": [
  {"width": 1, "height": 1, "view": {"stroke": null}, "data": {"name": "none"}, "mark": {"type": "point", "opacity": 0}, "encoding": {}},
  {
 "spacing": 22,
 "resolve": {"scale": {"color": "independent"}},
 "hconcat": [
  {
   "width": 225, "height": 383,
   "layer": [
    {"data": {"name": "box"}, "transform": [{"filter": {"field": "p", "equal": "e"}}],
     "mark": {"type": "rule", "strokeWidth": 1},
     "encoding": {
      "y": {"field": "c", "type": "nominal", "scale": {"domain": ["Zoopagomycota","Mucoromycota","Microsporidiomycota","Kickxellomycota","Glomeromycota","Fungi_X","Entomophthoromycota","Cryptomycota","Chytridiomycota","Blastocladiomycota","Basidiomycota","Ascomycota","Ascomyc"], "paddingInner": 0.25, "paddingOuter": 0.225}, "axis": {"title": "(e)", "titleX": -93, "titleY": -3, "minExtent": 105, "maxExtent": 105}},
      "x": {"field": "lo", "type": "quantitative", "scale": {"domain": [-0.05, 1.05], "nice": false, "zero": false}, "axis": {"title": "Relative Abundance", "values": [0, 0.25, 0.5, 0.75, 1], "format": ".2f"}},
      "x2": {"field": "q1"},
      "color": {"field": "c", "type": "nominal", "legend": null, "scale": {"domain": ["Ascomyc","Ascomycota","Basidiomycota","Blastocladiomycota","Chytridiomycota","Cryptomycota","Entomophthoromycota","Fungi_X","Glomeromycota","Kickxellomycota","Microsporidiomycota","Mucoromycota","Zoopagomycota"], "range": ["#F8766D","#E18A00","#BE9C00","#8CAB00","#24B700","#00BE70","#00C1AB","#00BBDA","#00ACFC","#8B93FF","#D575FE","#F962DD","#FF65AC"]}}
     }},
    {"data": {"name": "box"}, "transform": [{"filter": {"field": "p", "equal": "e"}}],
     "mark": {"type": "rule", "strokeWidth": 1},
     "encoding": {"y": {"field": "c", "type": "nominal"}, "x": {"field": "q3", "type": "quantitative"}, "x2": {"field": "hi"}, "color": {"field": "c", "type": "nominal"}}},
    {"data": {"name": "box"}, "transform": [{"filter": {"field": "p", "equal": "e"}}],
     "mark": {"type": "bar", "filled": false, "strokeWidth": 1},
     "encoding": {"y": {"field": "c", "type": "nominal"}, "x": {"field": "q1", "type": "quantitative"}, "x2": {"field": "q3"}, "color": {"field": "c", "type": "nominal"}}},
    {"data": {"name": "box"}, "transform": [{"filter": {"field": "p", "equal": "e"}}],
     "mark": {"type": "bar", "filled": false, "strokeWidth": 2},
     "encoding": {"y": {"field": "c", "type": "nominal"}, "x": {"field": "md", "type": "quantitative"}, "x2": {"field": "md"}, "color": {"field": "c", "type": "nominal"}}},
    {"data": {"name": "raw"}, "transform": [{"filter": {"field": "p", "equal": "e"}}],
     "mark": {"type": "circle", "size": 3, "opacity": 1},
     "encoding": {"y": {"field": "c", "type": "nominal"}, "x": {"field": "v", "type": "quantitative"}, "color": {"field": "c", "type": "nominal"}}},
    {"data": {"name": "out"}, "transform": [{"filter": {"field": "p", "equal": "e"}}],
     "mark": {"type": "circle", "size": 20, "opacity": 1},
     "encoding": {"y": {"field": "c", "type": "nominal"}, "x": {"field": "v", "type": "quantitative"}, "color": {"field": "c", "type": "nominal"}}}
   ]
  },
  {
   "width": 225, "height": 383,
   "layer": [
    {"data": {"name": "box"}, "transform": [{"filter": {"field": "p", "equal": "f"}}],
     "mark": {"type": "rule", "strokeWidth": 1},
     "encoding": {
      "y": {"field": "c", "type": "nominal", "scale": {"domain": ["Zoopagomycota","Mucoromycota","Microsporidiomycota","Kickxellomycota","Glomeromycota","Entomophthoromycota","Cryptomycota","Chytridiomycota","Blastocladiomycota","Basidiomycota","Ascomycota"], "paddingInner": 0.25, "paddingOuter": 0.225}, "axis": {"title": "(f)", "titleX": -90, "titleY": -6, "minExtent": 106, "maxExtent": 106}},
      "x": {"field": "lo", "type": "quantitative", "scale": {"domain": [-0.27, 5.68], "nice": false, "zero": false}, "axis": {"title": "log(Unique ASVs)", "values": [0, 2, 4]}},
      "x2": {"field": "q1"},
      "color": {"field": "c", "type": "nominal", "legend": null, "scale": {"domain": ["Ascomycota","Basidiomycota","Blastocladiomycota","Chytridiomycota","Cryptomycota","Entomophthoromycota","Glomeromycota","Kickxellomycota","Microsporidiomycota","Mucoromycota","Zoopagomycota"], "range": ["#F8766D","#DB8E00","#AEA200","#64B200","#00BD5C","#00C1A7","#00BADE","#00A6FF","#B385FF","#EF67EB","#FF63B6"]}}
     }},
    {"data": {"name": "box"}, "transform": [{"filter": {"field": "p", "equal": "f"}}],
     "mark": {"type": "rule", "strokeWidth": 1},
     "encoding": {"y": {"field": "c", "type": "nominal"}, "x": {"field": "q3", "type": "quantitative"}, "x2": {"field": "hi"}, "color": {"field": "c", "type": "nominal"}}},
    {"data": {"name": "box"}, "transform": [{"filter": {"field": "p", "equal": "f"}}],
     "mark": {"type": "bar", "filled": false, "strokeWidth": 1},
     "encoding": {"y": {"field": "c", "type": "nominal"}, "x": {"field": "q1", "type": "quantitative"}, "x2": {"field": "q3"}, "color": {"field": "c", "type": "nominal"}}},
    {"data": {"name": "box"}, "transform": [{"filter": {"field": "p", "equal": "f"}}],
     "mark": {"type": "bar", "filled": false, "strokeWidth": 2},
     "encoding": {"y": {"field": "c", "type": "nominal"}, "x": {"field": "md", "type": "quantitative"}, "x2": {"field": "md"}, "color": {"field": "c", "type": "nominal"}}},
    {"data": {"name": "raw"}, "transform": [{"filter": {"field": "p", "equal": "f"}}],
     "mark": {"type": "circle", "size": 3, "opacity": 1},
     "encoding": {"y": {"field": "c", "type": "nominal"}, "x": {"field": "v", "type": "quantitative"}, "color": {"field": "c", "type": "nominal"}}},
    {"data": {"name": "out"}, "transform": [{"filter": {"field": "p", "equal": "f"}}],
     "mark": {"type": "circle", "size": 20, "opacity": 1},
     "encoding": {"y": {"field": "c", "type": "nominal"}, "x": {"field": "v", "type": "quantitative"}, "color": {"field": "c", "type": "nominal"}}}
   ]
  }
 ]
  }
 ]
}
]
}
